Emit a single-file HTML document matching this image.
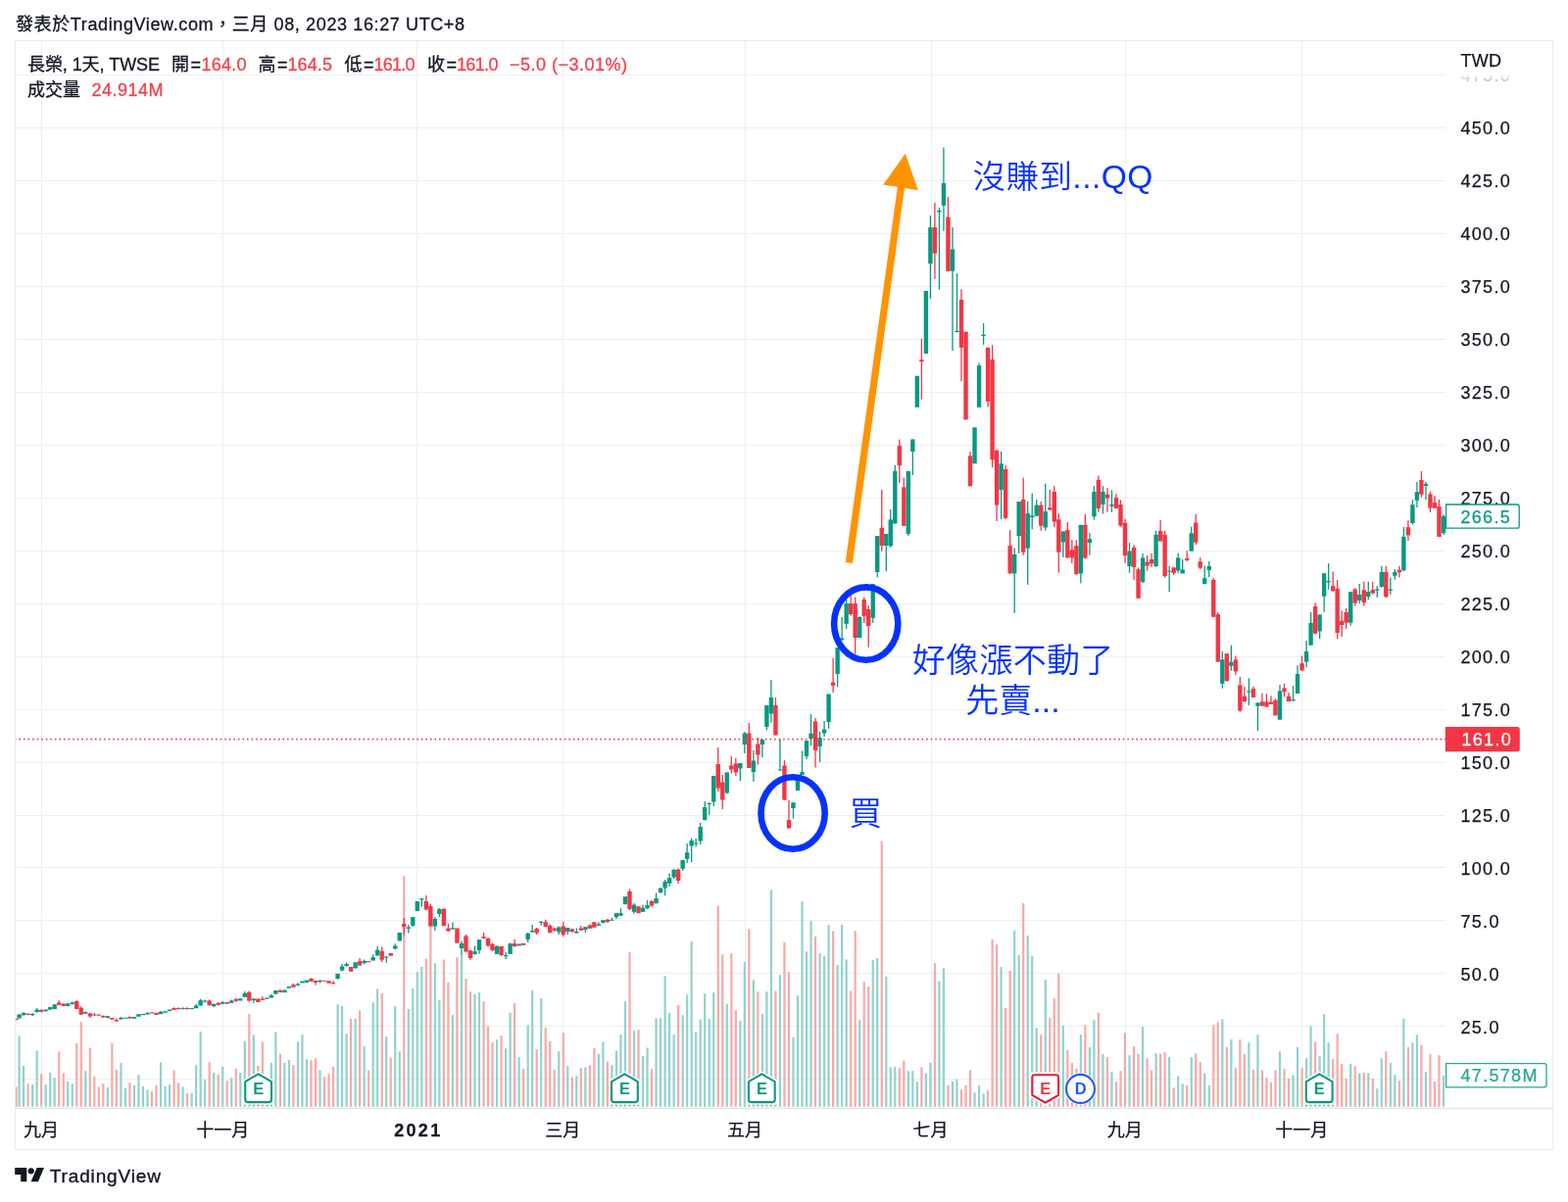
<!DOCTYPE html>
<html lang="zh-Hant"><head><meta charset="utf-8"><title>長榮 1天 TWSE - TradingView</title>
<style>
html,body{margin:0;padding:0;background:#fff;}
body{width:1600px;height:1227px;overflow:hidden;position:relative;font-family:"Liberation Sans","Noto Sans CJK TC",sans-serif;color:#131722;}
svg{position:absolute;left:0;top:0;display:block;}
text{font-family:"Liberation Sans","Noto Sans CJK TC",sans-serif;}
.ax{font-size:18px;fill:#131722;letter-spacing:1.3px;}
.ax text,text.ax{stroke:#131722;stroke-width:0.25px;}
.tm{font-size:18px;fill:#131722;}
.tm text{stroke:#131722;stroke-width:0.25px;}
.lg text{stroke:#131722;}
.lg text[fill="#f3404e"]{stroke:#f3404e;}
.ann{font-size:33.5px;fill:#0433ff;font-weight:350;}
</style></head><body>
<svg width="1600" height="1227" viewBox="0 0 1600 1227">
<rect x="0" y="0" width="1600" height="1227" fill="#fff"/>
<g stroke="#eceef1" stroke-width="1" fill="none">
<line x1="42.5" y1="41.5" x2="42.5" y2="1131.3"/>
<line x1="227.5" y1="41.5" x2="227.5" y2="1131.3"/>
<line x1="425.5" y1="41.5" x2="425.5" y2="1131.3"/>
<line x1="574.5" y1="41.5" x2="574.5" y2="1131.3"/>
<line x1="760.5" y1="41.5" x2="760.5" y2="1131.3"/>
<line x1="950.5" y1="41.5" x2="950.5" y2="1131.3"/>
<line x1="1148.5" y1="41.5" x2="1148.5" y2="1131.3"/>
<line x1="1328.5" y1="41.5" x2="1328.5" y2="1131.3"/>
<line x1="15.5" y1="1101.50" x2="1475.0" y2="1101.50"/>
<line x1="15.5" y1="1047.50" x2="1475.0" y2="1047.50"/>
<line x1="15.5" y1="993.50" x2="1475.0" y2="993.50"/>
<line x1="15.5" y1="939.50" x2="1475.0" y2="939.50"/>
<line x1="15.5" y1="885.50" x2="1475.0" y2="885.50"/>
<line x1="15.5" y1="832.50" x2="1475.0" y2="832.50"/>
<line x1="15.5" y1="778.50" x2="1475.0" y2="778.50"/>
<line x1="15.5" y1="724.50" x2="1475.0" y2="724.50"/>
<line x1="15.5" y1="670.50" x2="1475.0" y2="670.50"/>
<line x1="15.5" y1="616.50" x2="1475.0" y2="616.50"/>
<line x1="15.5" y1="562.50" x2="1475.0" y2="562.50"/>
<line x1="15.5" y1="508.50" x2="1475.0" y2="508.50"/>
<line x1="15.5" y1="454.50" x2="1475.0" y2="454.50"/>
<line x1="15.5" y1="400.50" x2="1475.0" y2="400.50"/>
<line x1="15.5" y1="346.50" x2="1475.0" y2="346.50"/>
<line x1="15.5" y1="292.50" x2="1475.0" y2="292.50"/>
<line x1="15.5" y1="238.50" x2="1475.0" y2="238.50"/>
<line x1="15.5" y1="184.50" x2="1475.0" y2="184.50"/>
<line x1="15.5" y1="130.50" x2="1475.0" y2="130.50"/>
<line x1="15.5" y1="76.50" x2="1475.0" y2="76.50"/>
</g>
<g id="vol">
<rect x="15.80" y="1109.4" width="1.85" height="20.4" fill="#f7a9a7"/>
<rect x="18.48" y="1057.5" width="2.20" height="72.3" fill="#92d2cc"/>
<rect x="23.00" y="1088.1" width="2.20" height="41.7" fill="#92d2cc"/>
<rect x="27.51" y="1106.2" width="2.20" height="23.5" fill="#f7a9a7"/>
<rect x="32.02" y="1107.1" width="2.20" height="22.7" fill="#92d2cc"/>
<rect x="36.54" y="1072.5" width="2.20" height="57.3" fill="#92d2cc"/>
<rect x="41.05" y="1096.2" width="2.20" height="33.5" fill="#f7a9a7"/>
<rect x="45.56" y="1107.1" width="2.20" height="22.7" fill="#92d2cc"/>
<rect x="50.08" y="1095.0" width="2.20" height="34.8" fill="#92d2cc"/>
<rect x="54.59" y="1100.2" width="2.20" height="29.5" fill="#92d2cc"/>
<rect x="59.10" y="1073.4" width="2.20" height="56.4" fill="#f7a9a7"/>
<rect x="63.62" y="1095.4" width="2.20" height="34.4" fill="#f7a9a7"/>
<rect x="68.13" y="1104.0" width="2.20" height="25.8" fill="#92d2cc"/>
<rect x="72.65" y="1106.2" width="2.20" height="23.5" fill="#92d2cc"/>
<rect x="77.16" y="1065.0" width="2.20" height="64.8" fill="#f7a9a7"/>
<rect x="81.67" y="1043.1" width="2.20" height="86.7" fill="#f7a9a7"/>
<rect x="86.19" y="1093.1" width="2.20" height="36.7" fill="#92d2cc"/>
<rect x="90.70" y="1069.6" width="2.20" height="60.2" fill="#f7a9a7"/>
<rect x="95.21" y="1098.8" width="2.20" height="31.0" fill="#f7a9a7"/>
<rect x="99.73" y="1109.4" width="2.20" height="20.4" fill="#f7a9a7"/>
<rect x="104.24" y="1106.2" width="2.20" height="23.5" fill="#f7a9a7"/>
<rect x="108.76" y="1110.0" width="2.20" height="19.8" fill="#92d2cc"/>
<rect x="113.27" y="1065.0" width="2.20" height="64.8" fill="#f7a9a7"/>
<rect x="117.78" y="1091.9" width="2.20" height="37.9" fill="#f7a9a7"/>
<rect x="122.30" y="1085.0" width="2.20" height="44.8" fill="#92d2cc"/>
<rect x="126.81" y="1111.0" width="2.20" height="18.8" fill="#92d2cc"/>
<rect x="131.32" y="1105.4" width="2.20" height="24.4" fill="#f7a9a7"/>
<rect x="135.84" y="1107.9" width="2.20" height="21.9" fill="#92d2cc"/>
<rect x="140.35" y="1097.1" width="2.20" height="32.7" fill="#92d2cc"/>
<rect x="144.87" y="1108.8" width="2.20" height="21.0" fill="#92d2cc"/>
<rect x="149.38" y="1112.5" width="2.20" height="17.3" fill="#92d2cc"/>
<rect x="153.89" y="1114.1" width="2.20" height="15.7" fill="#f7a9a7"/>
<rect x="158.41" y="1107.9" width="2.20" height="21.9" fill="#f7a9a7"/>
<rect x="162.92" y="1084.4" width="2.20" height="45.4" fill="#92d2cc"/>
<rect x="167.43" y="1108.8" width="2.20" height="21.0" fill="#92d2cc"/>
<rect x="171.95" y="1107.1" width="2.20" height="22.7" fill="#92d2cc"/>
<rect x="176.46" y="1092.5" width="2.20" height="37.3" fill="#f7a9a7"/>
<rect x="180.97" y="1105.4" width="2.20" height="24.4" fill="#f7a9a7"/>
<rect x="185.49" y="1109.4" width="2.20" height="20.4" fill="#92d2cc"/>
<rect x="190.00" y="1116.2" width="2.20" height="13.5" fill="#f7a9a7"/>
<rect x="194.52" y="1115.6" width="2.20" height="14.2" fill="#92d2cc"/>
<rect x="199.03" y="1087.2" width="2.20" height="42.5" fill="#92d2cc"/>
<rect x="203.54" y="1053.1" width="2.20" height="76.7" fill="#92d2cc"/>
<rect x="208.06" y="1102.2" width="2.20" height="27.5" fill="#92d2cc"/>
<rect x="212.57" y="1084.2" width="2.20" height="45.6" fill="#f7a9a7"/>
<rect x="217.08" y="1095.0" width="2.20" height="34.8" fill="#92d2cc"/>
<rect x="221.60" y="1097.0" width="2.20" height="32.8" fill="#f7a9a7"/>
<rect x="226.11" y="1089.0" width="2.20" height="40.8" fill="#92d2cc"/>
<rect x="230.63" y="1103.2" width="2.20" height="26.6" fill="#f7a9a7"/>
<rect x="235.14" y="1100.3" width="2.20" height="29.5" fill="#92d2cc"/>
<rect x="239.65" y="1091.0" width="2.20" height="38.8" fill="#f7a9a7"/>
<rect x="244.17" y="1095.0" width="2.20" height="34.8" fill="#92d2cc"/>
<rect x="248.68" y="1062.7" width="2.20" height="67.1" fill="#92d2cc"/>
<rect x="253.19" y="1035.2" width="2.20" height="94.6" fill="#f7a9a7"/>
<rect x="257.71" y="1056.5" width="2.20" height="73.3" fill="#92d2cc"/>
<rect x="262.22" y="1088.0" width="2.20" height="41.8" fill="#f7a9a7"/>
<rect x="266.73" y="1063.5" width="2.20" height="66.3" fill="#f7a9a7"/>
<rect x="271.25" y="1100.0" width="2.20" height="29.8" fill="#92d2cc"/>
<rect x="275.76" y="1085.0" width="2.20" height="44.8" fill="#92d2cc"/>
<rect x="280.28" y="1053.5" width="2.20" height="76.3" fill="#92d2cc"/>
<rect x="284.79" y="1075.8" width="2.20" height="54.0" fill="#f7a9a7"/>
<rect x="289.30" y="1085.0" width="2.20" height="44.8" fill="#92d2cc"/>
<rect x="293.82" y="1082.0" width="2.20" height="47.8" fill="#92d2cc"/>
<rect x="298.33" y="1087.0" width="2.20" height="42.8" fill="#f7a9a7"/>
<rect x="302.84" y="1063.5" width="2.20" height="66.3" fill="#92d2cc"/>
<rect x="307.36" y="1056.0" width="2.20" height="73.8" fill="#92d2cc"/>
<rect x="311.87" y="1081.2" width="2.20" height="48.6" fill="#92d2cc"/>
<rect x="316.39" y="1082.0" width="2.20" height="47.8" fill="#f7a9a7"/>
<rect x="320.90" y="1080.3" width="2.20" height="49.5" fill="#f7a9a7"/>
<rect x="325.41" y="1092.5" width="2.20" height="37.3" fill="#92d2cc"/>
<rect x="329.93" y="1099.3" width="2.20" height="30.5" fill="#f7a9a7"/>
<rect x="334.44" y="1096.2" width="2.20" height="33.6" fill="#f7a9a7"/>
<rect x="338.95" y="1089.0" width="2.20" height="40.8" fill="#f7a9a7"/>
<rect x="343.47" y="1025.2" width="2.20" height="104.6" fill="#92d2cc"/>
<rect x="347.98" y="1027.0" width="2.20" height="102.8" fill="#92d2cc"/>
<rect x="352.50" y="1055.2" width="2.20" height="74.6" fill="#92d2cc"/>
<rect x="357.01" y="1039.8" width="2.20" height="90.0" fill="#f7a9a7"/>
<rect x="361.52" y="1040.0" width="2.20" height="89.8" fill="#92d2cc"/>
<rect x="366.04" y="1031.3" width="2.20" height="98.5" fill="#f7a9a7"/>
<rect x="370.55" y="1068.0" width="2.20" height="61.8" fill="#92d2cc"/>
<rect x="375.06" y="1092.5" width="2.20" height="37.3" fill="#f7a9a7"/>
<rect x="379.58" y="1023.0" width="2.20" height="106.8" fill="#92d2cc"/>
<rect x="384.09" y="1009.5" width="2.20" height="120.3" fill="#92d2cc"/>
<rect x="388.60" y="1014.0" width="2.20" height="115.8" fill="#f7a9a7"/>
<rect x="393.12" y="1058.2" width="2.20" height="71.6" fill="#92d2cc"/>
<rect x="397.63" y="1079.5" width="2.20" height="50.3" fill="#f7a9a7"/>
<rect x="402.15" y="1027.0" width="2.20" height="102.8" fill="#92d2cc"/>
<rect x="406.66" y="1073.2" width="2.20" height="56.6" fill="#92d2cc"/>
<rect x="411.17" y="894.5" width="2.20" height="235.3" fill="#f7a9a7"/>
<rect x="415.69" y="1030.0" width="2.20" height="99.8" fill="#92d2cc"/>
<rect x="420.20" y="1009.0" width="2.20" height="120.8" fill="#92d2cc"/>
<rect x="424.71" y="992.2" width="2.20" height="137.6" fill="#92d2cc"/>
<rect x="429.23" y="987.0" width="2.20" height="142.8" fill="#92d2cc"/>
<rect x="433.74" y="978.8" width="2.20" height="151.0" fill="#f7a9a7"/>
<rect x="438.26" y="940.0" width="2.20" height="189.8" fill="#f7a9a7"/>
<rect x="442.77" y="983.2" width="2.20" height="146.6" fill="#92d2cc"/>
<rect x="447.28" y="1020.8" width="2.20" height="109.0" fill="#92d2cc"/>
<rect x="451.80" y="979.5" width="2.20" height="150.3" fill="#f7a9a7"/>
<rect x="456.31" y="1003.0" width="2.20" height="126.8" fill="#f7a9a7"/>
<rect x="460.82" y="1036.2" width="2.20" height="93.6" fill="#92d2cc"/>
<rect x="465.34" y="977.2" width="2.20" height="152.6" fill="#f7a9a7"/>
<rect x="469.85" y="974.0" width="2.20" height="155.8" fill="#92d2cc"/>
<rect x="474.37" y="999.2" width="2.20" height="130.6" fill="#f7a9a7"/>
<rect x="478.88" y="1012.2" width="2.20" height="117.6" fill="#f7a9a7"/>
<rect x="483.39" y="1014.8" width="2.20" height="115.0" fill="#92d2cc"/>
<rect x="487.91" y="1013.2" width="2.20" height="116.6" fill="#92d2cc"/>
<rect x="492.42" y="1022.2" width="2.20" height="107.6" fill="#f7a9a7"/>
<rect x="496.93" y="1047.5" width="2.20" height="82.3" fill="#f7a9a7"/>
<rect x="501.45" y="1064.2" width="2.20" height="65.6" fill="#f7a9a7"/>
<rect x="505.96" y="1061.2" width="2.20" height="68.6" fill="#92d2cc"/>
<rect x="510.47" y="1057.3" width="2.20" height="72.5" fill="#f7a9a7"/>
<rect x="514.99" y="1070.3" width="2.20" height="59.5" fill="#92d2cc"/>
<rect x="519.50" y="1033.8" width="2.20" height="96.0" fill="#92d2cc"/>
<rect x="524.02" y="1024.0" width="2.20" height="105.8" fill="#f7a9a7"/>
<rect x="528.53" y="1079.0" width="2.20" height="50.8" fill="#92d2cc"/>
<rect x="533.04" y="1091.2" width="2.20" height="38.6" fill="#f7a9a7"/>
<rect x="537.56" y="1046.2" width="2.20" height="83.6" fill="#92d2cc"/>
<rect x="542.07" y="1011.0" width="2.20" height="118.8" fill="#92d2cc"/>
<rect x="546.58" y="1071.2" width="2.20" height="58.6" fill="#f7a9a7"/>
<rect x="551.10" y="1019.2" width="2.20" height="110.6" fill="#92d2cc"/>
<rect x="555.61" y="1049.2" width="2.20" height="80.6" fill="#f7a9a7"/>
<rect x="560.13" y="1062.8" width="2.20" height="67.0" fill="#f7a9a7"/>
<rect x="564.64" y="1092.0" width="2.20" height="37.8" fill="#f7a9a7"/>
<rect x="569.15" y="1073.3" width="2.20" height="56.5" fill="#92d2cc"/>
<rect x="573.67" y="1054.3" width="2.20" height="75.5" fill="#f7a9a7"/>
<rect x="578.18" y="1088.2" width="2.20" height="41.6" fill="#92d2cc"/>
<rect x="582.69" y="1099.3" width="2.20" height="30.5" fill="#f7a9a7"/>
<rect x="587.21" y="1098.0" width="2.20" height="31.8" fill="#92d2cc"/>
<rect x="591.72" y="1090.2" width="2.20" height="39.6" fill="#f7a9a7"/>
<rect x="596.24" y="1089.5" width="2.20" height="40.3" fill="#92d2cc"/>
<rect x="600.75" y="1087.2" width="2.20" height="42.6" fill="#f7a9a7"/>
<rect x="605.26" y="1069.7" width="2.20" height="60.1" fill="#f7a9a7"/>
<rect x="609.78" y="1075.8" width="2.20" height="54.0" fill="#92d2cc"/>
<rect x="614.29" y="1063.5" width="2.20" height="66.3" fill="#92d2cc"/>
<rect x="618.80" y="1083.5" width="2.20" height="46.3" fill="#f7a9a7"/>
<rect x="623.32" y="1087.2" width="2.20" height="42.6" fill="#92d2cc"/>
<rect x="627.83" y="1072.7" width="2.20" height="57.1" fill="#92d2cc"/>
<rect x="632.34" y="1056.0" width="2.20" height="73.8" fill="#92d2cc"/>
<rect x="636.86" y="1022.2" width="2.20" height="107.6" fill="#92d2cc"/>
<rect x="641.37" y="972.0" width="2.20" height="157.8" fill="#f7a9a7"/>
<rect x="645.89" y="1052.2" width="2.20" height="77.6" fill="#92d2cc"/>
<rect x="650.40" y="1051.2" width="2.20" height="78.6" fill="#f7a9a7"/>
<rect x="654.91" y="1078.2" width="2.20" height="51.6" fill="#92d2cc"/>
<rect x="659.43" y="1069.5" width="2.20" height="60.3" fill="#92d2cc"/>
<rect x="663.94" y="1091.2" width="2.20" height="38.6" fill="#f7a9a7"/>
<rect x="668.45" y="1039.2" width="2.20" height="90.6" fill="#92d2cc"/>
<rect x="672.97" y="1039.2" width="2.20" height="90.6" fill="#92d2cc"/>
<rect x="677.48" y="996.2" width="2.20" height="133.6" fill="#92d2cc"/>
<rect x="682.00" y="1033.8" width="2.20" height="96.0" fill="#92d2cc"/>
<rect x="686.51" y="1056.2" width="2.20" height="73.6" fill="#92d2cc"/>
<rect x="691.02" y="1026.0" width="2.20" height="103.8" fill="#f7a9a7"/>
<rect x="695.54" y="1036.2" width="2.20" height="93.6" fill="#92d2cc"/>
<rect x="700.05" y="1015.2" width="2.20" height="114.6" fill="#92d2cc"/>
<rect x="704.56" y="961.2" width="2.20" height="168.6" fill="#92d2cc"/>
<rect x="709.08" y="1053.8" width="2.20" height="76.0" fill="#92d2cc"/>
<rect x="713.59" y="1040.5" width="2.20" height="89.3" fill="#92d2cc"/>
<rect x="718.11" y="1014.2" width="2.20" height="115.6" fill="#92d2cc"/>
<rect x="722.62" y="1040.0" width="2.20" height="89.8" fill="#92d2cc"/>
<rect x="727.13" y="1013.2" width="2.20" height="116.6" fill="#92d2cc"/>
<rect x="731.65" y="924.5" width="2.20" height="205.3" fill="#f7a9a7"/>
<rect x="736.16" y="974.2" width="2.20" height="155.6" fill="#f7a9a7"/>
<rect x="740.67" y="1024.8" width="2.20" height="105.0" fill="#92d2cc"/>
<rect x="745.19" y="973.2" width="2.20" height="156.6" fill="#f7a9a7"/>
<rect x="749.70" y="1031.3" width="2.20" height="98.5" fill="#f7a9a7"/>
<rect x="754.21" y="1042.2" width="2.20" height="87.6" fill="#92d2cc"/>
<rect x="758.73" y="981.8" width="2.20" height="148.0" fill="#92d2cc"/>
<rect x="763.24" y="948.2" width="2.20" height="181.6" fill="#f7a9a7"/>
<rect x="767.76" y="1000.2" width="2.20" height="129.6" fill="#92d2cc"/>
<rect x="772.27" y="1012.2" width="2.20" height="117.6" fill="#f7a9a7"/>
<rect x="776.78" y="1035.2" width="2.20" height="94.6" fill="#92d2cc"/>
<rect x="781.30" y="1012.2" width="2.20" height="117.6" fill="#92d2cc"/>
<rect x="785.81" y="908.5" width="2.20" height="221.3" fill="#92d2cc"/>
<rect x="790.32" y="1011.5" width="2.20" height="118.3" fill="#f7a9a7"/>
<rect x="794.84" y="995.2" width="2.20" height="134.6" fill="#92d2cc"/>
<rect x="799.35" y="961.8" width="2.20" height="168.0" fill="#f7a9a7"/>
<rect x="803.87" y="992.4" width="2.20" height="137.4" fill="#f7a9a7"/>
<rect x="808.38" y="1059.0" width="2.20" height="70.8" fill="#92d2cc"/>
<rect x="812.89" y="1016.2" width="2.20" height="113.6" fill="#92d2cc"/>
<rect x="817.41" y="920.2" width="2.20" height="209.6" fill="#92d2cc"/>
<rect x="821.92" y="971.3" width="2.20" height="158.5" fill="#92d2cc"/>
<rect x="826.43" y="940.0" width="2.20" height="189.8" fill="#92d2cc"/>
<rect x="830.95" y="955.9" width="2.20" height="173.9" fill="#f7a9a7"/>
<rect x="835.46" y="973.2" width="2.20" height="156.6" fill="#92d2cc"/>
<rect x="839.97" y="975.8" width="2.20" height="154.0" fill="#92d2cc"/>
<rect x="844.49" y="944.1" width="2.20" height="185.7" fill="#92d2cc"/>
<rect x="849.00" y="950.4" width="2.20" height="179.4" fill="#f7a9a7"/>
<rect x="853.52" y="985.0" width="2.20" height="144.8" fill="#92d2cc"/>
<rect x="858.03" y="944.1" width="2.20" height="185.7" fill="#92d2cc"/>
<rect x="862.54" y="979.4" width="2.20" height="150.4" fill="#92d2cc"/>
<rect x="867.06" y="1011.5" width="2.20" height="118.3" fill="#f7a9a7"/>
<rect x="871.57" y="950.4" width="2.20" height="179.4" fill="#f7a9a7"/>
<rect x="876.08" y="1041.2" width="2.20" height="88.6" fill="#92d2cc"/>
<rect x="880.60" y="1002.3" width="2.20" height="127.5" fill="#f7a9a7"/>
<rect x="885.11" y="1007.1" width="2.20" height="122.7" fill="#f7a9a7"/>
<rect x="889.63" y="980.1" width="2.20" height="149.7" fill="#92d2cc"/>
<rect x="894.14" y="978.0" width="2.20" height="151.8" fill="#92d2cc"/>
<rect x="898.65" y="858.5" width="2.20" height="271.3" fill="#f7a9a7"/>
<rect x="903.17" y="997.1" width="2.20" height="132.7" fill="#92d2cc"/>
<rect x="907.68" y="1089.5" width="2.20" height="40.3" fill="#92d2cc"/>
<rect x="912.19" y="1089.0" width="2.20" height="40.8" fill="#92d2cc"/>
<rect x="916.71" y="1090.2" width="2.20" height="39.6" fill="#f7a9a7"/>
<rect x="921.22" y="1082.7" width="2.20" height="47.1" fill="#f7a9a7"/>
<rect x="925.74" y="1093.2" width="2.20" height="36.6" fill="#92d2cc"/>
<rect x="930.25" y="1093.2" width="2.20" height="36.6" fill="#92d2cc"/>
<rect x="934.76" y="1104.2" width="2.20" height="25.6" fill="#92d2cc"/>
<rect x="939.28" y="1089.5" width="2.20" height="40.3" fill="#f7a9a7"/>
<rect x="943.79" y="1095.5" width="2.20" height="34.3" fill="#92d2cc"/>
<rect x="948.30" y="1085.0" width="2.20" height="44.8" fill="#92d2cc"/>
<rect x="952.82" y="983.2" width="2.20" height="146.6" fill="#f7a9a7"/>
<rect x="957.33" y="1001.5" width="2.20" height="128.3" fill="#92d2cc"/>
<rect x="961.84" y="988.5" width="2.20" height="141.3" fill="#92d2cc"/>
<rect x="966.36" y="1107.8" width="2.20" height="22.0" fill="#f7a9a7"/>
<rect x="970.87" y="1104.0" width="2.20" height="25.8" fill="#92d2cc"/>
<rect x="975.39" y="1101.8" width="2.20" height="28.0" fill="#92d2cc"/>
<rect x="979.90" y="1112.2" width="2.20" height="17.6" fill="#f7a9a7"/>
<rect x="984.41" y="1107.8" width="2.20" height="22.0" fill="#f7a9a7"/>
<rect x="988.93" y="1092.5" width="2.20" height="37.3" fill="#f7a9a7"/>
<rect x="993.44" y="1115.2" width="2.20" height="14.6" fill="#92d2cc"/>
<rect x="997.95" y="1108.0" width="2.20" height="21.8" fill="#92d2cc"/>
<rect x="1002.47" y="1116.2" width="2.20" height="13.6" fill="#92d2cc"/>
<rect x="1006.98" y="1113.2" width="2.20" height="16.6" fill="#f7a9a7"/>
<rect x="1011.50" y="958.8" width="2.20" height="171.0" fill="#f7a9a7"/>
<rect x="1016.01" y="964.2" width="2.20" height="165.6" fill="#f7a9a7"/>
<rect x="1020.52" y="987.0" width="2.20" height="142.8" fill="#92d2cc"/>
<rect x="1025.04" y="1029.0" width="2.20" height="100.8" fill="#f7a9a7"/>
<rect x="1029.55" y="991.0" width="2.20" height="138.8" fill="#f7a9a7"/>
<rect x="1034.06" y="949.7" width="2.20" height="180.1" fill="#92d2cc"/>
<rect x="1038.58" y="975.0" width="2.20" height="154.8" fill="#92d2cc"/>
<rect x="1043.09" y="922.0" width="2.20" height="207.8" fill="#f7a9a7"/>
<rect x="1047.61" y="955.0" width="2.20" height="174.8" fill="#92d2cc"/>
<rect x="1052.12" y="976.2" width="2.20" height="153.6" fill="#92d2cc"/>
<rect x="1056.63" y="1049.2" width="2.20" height="80.6" fill="#92d2cc"/>
<rect x="1061.15" y="1056.0" width="2.20" height="73.8" fill="#f7a9a7"/>
<rect x="1065.66" y="1000.0" width="2.20" height="129.8" fill="#92d2cc"/>
<rect x="1070.17" y="1039.2" width="2.20" height="90.6" fill="#f7a9a7"/>
<rect x="1074.69" y="1019.2" width="2.20" height="110.6" fill="#f7a9a7"/>
<rect x="1079.20" y="994.0" width="2.20" height="135.8" fill="#f7a9a7"/>
<rect x="1083.71" y="1047.0" width="2.20" height="82.8" fill="#92d2cc"/>
<rect x="1088.23" y="1072.0" width="2.20" height="57.8" fill="#f7a9a7"/>
<rect x="1092.74" y="1085.0" width="2.20" height="44.8" fill="#f7a9a7"/>
<rect x="1097.26" y="1091.0" width="2.20" height="38.8" fill="#f7a9a7"/>
<rect x="1101.77" y="1056.0" width="2.20" height="73.8" fill="#92d2cc"/>
<rect x="1106.28" y="1046.2" width="2.20" height="83.6" fill="#f7a9a7"/>
<rect x="1110.80" y="1069.0" width="2.20" height="60.8" fill="#92d2cc"/>
<rect x="1115.31" y="1041.2" width="2.20" height="88.6" fill="#92d2cc"/>
<rect x="1119.82" y="1033.8" width="2.20" height="96.0" fill="#f7a9a7"/>
<rect x="1124.34" y="1075.8" width="2.20" height="54.0" fill="#92d2cc"/>
<rect x="1128.85" y="1079.0" width="2.20" height="50.8" fill="#f7a9a7"/>
<rect x="1133.37" y="1094.2" width="2.20" height="35.6" fill="#92d2cc"/>
<rect x="1137.88" y="1104.2" width="2.20" height="25.6" fill="#f7a9a7"/>
<rect x="1142.39" y="1093.2" width="2.20" height="36.6" fill="#f7a9a7"/>
<rect x="1146.91" y="1054.3" width="2.20" height="75.5" fill="#f7a9a7"/>
<rect x="1151.42" y="1077.2" width="2.20" height="52.6" fill="#92d2cc"/>
<rect x="1155.93" y="1068.2" width="2.20" height="61.6" fill="#f7a9a7"/>
<rect x="1160.45" y="1075.8" width="2.20" height="54.0" fill="#f7a9a7"/>
<rect x="1164.96" y="1048.2" width="2.20" height="81.6" fill="#92d2cc"/>
<rect x="1169.48" y="1080.3" width="2.20" height="49.5" fill="#f7a9a7"/>
<rect x="1173.99" y="1092.5" width="2.20" height="37.3" fill="#f7a9a7"/>
<rect x="1178.50" y="1075.2" width="2.20" height="54.6" fill="#92d2cc"/>
<rect x="1183.02" y="1075.8" width="2.20" height="54.0" fill="#f7a9a7"/>
<rect x="1187.53" y="1074.2" width="2.20" height="55.6" fill="#f7a9a7"/>
<rect x="1192.04" y="1079.0" width="2.20" height="50.8" fill="#92d2cc"/>
<rect x="1196.56" y="1110.2" width="2.20" height="19.6" fill="#f7a9a7"/>
<rect x="1201.07" y="1098.5" width="2.20" height="31.3" fill="#92d2cc"/>
<rect x="1205.58" y="1106.2" width="2.20" height="23.6" fill="#92d2cc"/>
<rect x="1210.10" y="1107.8" width="2.20" height="22.0" fill="#f7a9a7"/>
<rect x="1214.61" y="1079.0" width="2.20" height="50.8" fill="#92d2cc"/>
<rect x="1219.13" y="1075.2" width="2.20" height="54.6" fill="#f7a9a7"/>
<rect x="1223.64" y="1084.2" width="2.20" height="45.6" fill="#f7a9a7"/>
<rect x="1228.15" y="1095.5" width="2.20" height="34.3" fill="#92d2cc"/>
<rect x="1232.67" y="1108.0" width="2.20" height="21.8" fill="#92d2cc"/>
<rect x="1237.18" y="1046.2" width="2.20" height="83.6" fill="#f7a9a7"/>
<rect x="1241.69" y="1043.2" width="2.20" height="86.6" fill="#f7a9a7"/>
<rect x="1246.21" y="1040.5" width="2.20" height="89.3" fill="#92d2cc"/>
<rect x="1250.72" y="1069.0" width="2.20" height="60.8" fill="#f7a9a7"/>
<rect x="1255.24" y="1061.2" width="2.20" height="68.6" fill="#92d2cc"/>
<rect x="1259.75" y="1090.2" width="2.20" height="39.6" fill="#f7a9a7"/>
<rect x="1264.26" y="1061.2" width="2.20" height="68.6" fill="#f7a9a7"/>
<rect x="1268.78" y="1076.2" width="2.20" height="53.6" fill="#f7a9a7"/>
<rect x="1273.29" y="1064.2" width="2.20" height="65.6" fill="#92d2cc"/>
<rect x="1277.80" y="1092.0" width="2.20" height="37.8" fill="#f7a9a7"/>
<rect x="1282.32" y="1056.0" width="2.20" height="73.8" fill="#92d2cc"/>
<rect x="1286.83" y="1092.5" width="2.20" height="37.3" fill="#f7a9a7"/>
<rect x="1291.34" y="1100.2" width="2.20" height="29.6" fill="#f7a9a7"/>
<rect x="1295.86" y="1104.8" width="2.20" height="25.0" fill="#f7a9a7"/>
<rect x="1300.37" y="1092.5" width="2.20" height="37.3" fill="#f7a9a7"/>
<rect x="1304.89" y="1073.3" width="2.20" height="56.5" fill="#92d2cc"/>
<rect x="1309.40" y="1091.2" width="2.20" height="38.6" fill="#f7a9a7"/>
<rect x="1313.91" y="1101.0" width="2.20" height="28.8" fill="#f7a9a7"/>
<rect x="1318.43" y="1097.2" width="2.20" height="32.6" fill="#92d2cc"/>
<rect x="1322.94" y="1069.0" width="2.20" height="60.8" fill="#92d2cc"/>
<rect x="1327.45" y="1090.2" width="2.20" height="39.6" fill="#f7a9a7"/>
<rect x="1331.97" y="1080.3" width="2.20" height="49.5" fill="#92d2cc"/>
<rect x="1336.48" y="1047.5" width="2.20" height="82.3" fill="#92d2cc"/>
<rect x="1341.00" y="1063.5" width="2.20" height="66.3" fill="#f7a9a7"/>
<rect x="1345.51" y="1078.2" width="2.20" height="51.6" fill="#92d2cc"/>
<rect x="1350.02" y="1035.2" width="2.20" height="94.6" fill="#92d2cc"/>
<rect x="1354.54" y="1064.2" width="2.20" height="65.6" fill="#92d2cc"/>
<rect x="1359.05" y="1081.2" width="2.20" height="48.6" fill="#f7a9a7"/>
<rect x="1363.56" y="1055.2" width="2.20" height="74.6" fill="#f7a9a7"/>
<rect x="1368.08" y="1085.8" width="2.20" height="44.0" fill="#f7a9a7"/>
<rect x="1372.59" y="1101.0" width="2.20" height="28.8" fill="#f7a9a7"/>
<rect x="1377.11" y="1085.8" width="2.20" height="44.0" fill="#92d2cc"/>
<rect x="1381.62" y="1088.2" width="2.20" height="41.6" fill="#f7a9a7"/>
<rect x="1386.13" y="1095.5" width="2.20" height="34.3" fill="#92d2cc"/>
<rect x="1390.65" y="1095.0" width="2.20" height="34.8" fill="#f7a9a7"/>
<rect x="1395.16" y="1095.5" width="2.20" height="34.3" fill="#92d2cc"/>
<rect x="1399.67" y="1101.0" width="2.20" height="28.8" fill="#f7a9a7"/>
<rect x="1404.19" y="1111.2" width="2.20" height="18.6" fill="#92d2cc"/>
<rect x="1408.70" y="1080.3" width="2.20" height="49.5" fill="#92d2cc"/>
<rect x="1413.21" y="1073.3" width="2.20" height="56.5" fill="#f7a9a7"/>
<rect x="1417.73" y="1085.0" width="2.20" height="44.8" fill="#92d2cc"/>
<rect x="1422.24" y="1097.2" width="2.20" height="32.6" fill="#92d2cc"/>
<rect x="1426.76" y="1103.2" width="2.20" height="26.6" fill="#f7a9a7"/>
<rect x="1431.27" y="1039.8" width="2.20" height="90.0" fill="#92d2cc"/>
<rect x="1435.78" y="1069.0" width="2.20" height="60.8" fill="#f7a9a7"/>
<rect x="1440.30" y="1064.2" width="2.20" height="65.6" fill="#92d2cc"/>
<rect x="1444.81" y="1056.5" width="2.20" height="73.3" fill="#92d2cc"/>
<rect x="1449.32" y="1066.5" width="2.20" height="63.3" fill="#f7a9a7"/>
<rect x="1453.84" y="1094.0" width="2.20" height="35.8" fill="#92d2cc"/>
<rect x="1458.35" y="1076.2" width="2.20" height="53.6" fill="#f7a9a7"/>
<rect x="1462.87" y="1104.0" width="2.20" height="25.8" fill="#f7a9a7"/>
<rect x="1467.38" y="1077.2" width="2.20" height="52.6" fill="#f7a9a7"/>
<rect x="1471.89" y="1098.0" width="2.20" height="31.8" fill="#92d2cc"/>
</g>
<g id="candles">
<rect x="15.90" y="1039.7" width="1.3" height="1.6" fill="#f23645"/>
<rect x="15.80" y="1040.0" width="2.95" height="1.0" fill="#f23645"/>
<rect x="18.93" y="1035.0" width="1.3" height="4.7" fill="#089981"/>
<rect x="17.38" y="1035.6" width="4.40" height="3.8" fill="#089981"/>
<rect x="23.45" y="1033.1" width="1.3" height="3.4" fill="#089981"/>
<rect x="21.90" y="1034.1" width="4.40" height="2.2" fill="#089981"/>
<rect x="27.96" y="1034.4" width="1.3" height="1.9" fill="#f23645"/>
<rect x="26.41" y="1034.7" width="4.40" height="1.2" fill="#f23645"/>
<rect x="32.47" y="1034.1" width="1.3" height="3.1" fill="#089981"/>
<rect x="30.92" y="1035.0" width="4.40" height="1.2" fill="#089981"/>
<rect x="36.99" y="1029.1" width="1.3" height="4.4" fill="#089981"/>
<rect x="35.44" y="1030.6" width="4.40" height="2.5" fill="#089981"/>
<rect x="41.50" y="1030.3" width="1.3" height="3.1" fill="#f23645"/>
<rect x="39.95" y="1030.9" width="4.40" height="1.9" fill="#f23645"/>
<rect x="46.01" y="1030.3" width="1.3" height="2.2" fill="#089981"/>
<rect x="44.46" y="1030.6" width="4.40" height="1.6" fill="#089981"/>
<rect x="50.53" y="1027.8" width="1.3" height="3.1" fill="#089981"/>
<rect x="48.98" y="1028.1" width="4.40" height="2.5" fill="#089981"/>
<rect x="55.04" y="1025.0" width="1.3" height="5.3" fill="#089981"/>
<rect x="53.49" y="1025.3" width="4.40" height="4.7" fill="#089981"/>
<rect x="59.55" y="1021.2" width="1.3" height="5.0" fill="#f23645"/>
<rect x="58.00" y="1023.4" width="4.40" height="2.5" fill="#f23645"/>
<rect x="64.07" y="1024.1" width="1.3" height="3.1" fill="#f23645"/>
<rect x="62.52" y="1024.7" width="4.40" height="2.2" fill="#f23645"/>
<rect x="68.58" y="1024.1" width="1.3" height="3.1" fill="#089981"/>
<rect x="67.03" y="1024.4" width="4.40" height="2.5" fill="#089981"/>
<rect x="73.10" y="1022.5" width="1.3" height="3.1" fill="#089981"/>
<rect x="71.55" y="1023.4" width="4.40" height="1.6" fill="#089981"/>
<rect x="77.61" y="1021.2" width="1.3" height="9.1" fill="#f23645"/>
<rect x="76.06" y="1021.9" width="4.40" height="8.1" fill="#f23645"/>
<rect x="82.12" y="1027.2" width="1.3" height="8.8" fill="#f23645"/>
<rect x="80.57" y="1028.8" width="4.40" height="6.9" fill="#f23645"/>
<rect x="86.64" y="1032.5" width="1.3" height="2.5" fill="#089981"/>
<rect x="85.09" y="1033.1" width="4.40" height="1.6" fill="#089981"/>
<rect x="91.15" y="1034.1" width="1.3" height="4.7" fill="#f23645"/>
<rect x="89.60" y="1034.4" width="4.40" height="3.1" fill="#f23645"/>
<rect x="95.66" y="1034.1" width="1.3" height="2.8" fill="#f23645"/>
<rect x="94.11" y="1035.6" width="4.40" height="1.0" fill="#f23645"/>
<rect x="100.18" y="1035.3" width="1.3" height="1.6" fill="#f23645"/>
<rect x="98.63" y="1035.6" width="4.40" height="1.0" fill="#f23645"/>
<rect x="104.69" y="1036.6" width="1.3" height="2.2" fill="#f23645"/>
<rect x="103.14" y="1036.9" width="4.40" height="1.6" fill="#f23645"/>
<rect x="109.21" y="1036.9" width="1.3" height="2.5" fill="#089981"/>
<rect x="107.66" y="1037.2" width="4.40" height="1.9" fill="#089981"/>
<rect x="112.17" y="1039.0" width="4.40" height="1.8" fill="#f23645"/>
<rect x="118.23" y="1039.5" width="1.3" height="3.5" fill="#f23645"/>
<rect x="116.68" y="1041.2" width="4.40" height="1.3" fill="#f23645"/>
<rect x="122.75" y="1038.0" width="1.3" height="2.5" fill="#089981"/>
<rect x="121.20" y="1039.0" width="4.40" height="1.5" fill="#089981"/>
<rect x="125.71" y="1038.8" width="4.40" height="1.0" fill="#089981"/>
<rect x="131.77" y="1037.5" width="1.3" height="2.5" fill="#f23645"/>
<rect x="130.22" y="1038.0" width="4.40" height="1.5" fill="#f23645"/>
<rect x="134.74" y="1038.0" width="4.40" height="1.8" fill="#089981"/>
<rect x="139.25" y="1035.2" width="4.40" height="2.6" fill="#089981"/>
<rect x="143.77" y="1035.0" width="4.40" height="1.2" fill="#089981"/>
<rect x="149.83" y="1033.2" width="1.3" height="2.3" fill="#089981"/>
<rect x="148.28" y="1034.0" width="4.40" height="1.5" fill="#089981"/>
<rect x="152.79" y="1033.3" width="4.40" height="1.2" fill="#f23645"/>
<rect x="157.31" y="1033.8" width="4.40" height="2.2" fill="#f23645"/>
<rect x="163.37" y="1032.0" width="1.3" height="3.2" fill="#089981"/>
<rect x="161.82" y="1032.8" width="4.40" height="2.4" fill="#089981"/>
<rect x="166.33" y="1032.2" width="4.40" height="1.6" fill="#089981"/>
<rect x="170.85" y="1030.5" width="4.40" height="1.7" fill="#089981"/>
<rect x="176.91" y="1028.3" width="1.3" height="2.5" fill="#f23645"/>
<rect x="175.36" y="1029.0" width="4.40" height="1.8" fill="#f23645"/>
<rect x="181.42" y="1028.3" width="1.3" height="1.9" fill="#f23645"/>
<rect x="179.87" y="1029.0" width="4.40" height="1.2" fill="#f23645"/>
<rect x="185.94" y="1028.3" width="1.3" height="2.2" fill="#089981"/>
<rect x="184.39" y="1029.0" width="4.40" height="1.0" fill="#089981"/>
<rect x="190.45" y="1028.3" width="1.3" height="1.9" fill="#f23645"/>
<rect x="188.90" y="1029.0" width="4.40" height="1.2" fill="#f23645"/>
<rect x="193.42" y="1029.0" width="4.40" height="1.2" fill="#089981"/>
<rect x="199.48" y="1024.8" width="1.3" height="4.4" fill="#089981"/>
<rect x="197.93" y="1026.5" width="4.40" height="2.7" fill="#089981"/>
<rect x="203.99" y="1019.7" width="1.3" height="6.8" fill="#089981"/>
<rect x="202.44" y="1021.2" width="4.40" height="5.3" fill="#089981"/>
<rect x="208.51" y="1020.5" width="1.3" height="3.0" fill="#089981"/>
<rect x="206.96" y="1021.5" width="4.40" height="1.0" fill="#089981"/>
<rect x="213.02" y="1020.3" width="1.3" height="6.2" fill="#f23645"/>
<rect x="211.47" y="1021.5" width="4.40" height="4.7" fill="#f23645"/>
<rect x="217.53" y="1024.3" width="1.3" height="3.7" fill="#089981"/>
<rect x="215.98" y="1025.0" width="4.40" height="2.2" fill="#089981"/>
<rect x="222.05" y="1023.0" width="1.3" height="3.5" fill="#f23645"/>
<rect x="220.50" y="1024.0" width="4.40" height="1.8" fill="#f23645"/>
<rect x="226.56" y="1022.0" width="1.3" height="2.8" fill="#089981"/>
<rect x="225.01" y="1023.0" width="4.40" height="1.8" fill="#089981"/>
<rect x="231.08" y="1023.0" width="1.3" height="2.0" fill="#f23645"/>
<rect x="229.53" y="1023.0" width="4.40" height="1.5" fill="#f23645"/>
<rect x="235.59" y="1020.5" width="1.3" height="3.3" fill="#089981"/>
<rect x="234.04" y="1021.5" width="4.40" height="2.3" fill="#089981"/>
<rect x="240.10" y="1019.0" width="1.3" height="3.8" fill="#f23645"/>
<rect x="238.55" y="1020.0" width="4.40" height="1.8" fill="#f23645"/>
<rect x="243.07" y="1019.2" width="4.40" height="2.3" fill="#089981"/>
<rect x="249.13" y="1012.0" width="1.3" height="6.0" fill="#089981"/>
<rect x="247.58" y="1013.8" width="4.40" height="4.0" fill="#089981"/>
<rect x="253.64" y="1011.5" width="1.3" height="11.0" fill="#f23645"/>
<rect x="252.09" y="1013.0" width="4.40" height="8.5" fill="#f23645"/>
<rect x="258.16" y="1018.8" width="1.3" height="5.2" fill="#089981"/>
<rect x="256.61" y="1019.5" width="4.40" height="1.7" fill="#089981"/>
<rect x="261.12" y="1019.5" width="4.40" height="3.5" fill="#f23645"/>
<rect x="267.19" y="1017.0" width="1.3" height="4.0" fill="#f23645"/>
<rect x="265.63" y="1019.5" width="4.40" height="1.3" fill="#f23645"/>
<rect x="270.15" y="1018.5" width="4.40" height="1.3" fill="#089981"/>
<rect x="276.21" y="1015.0" width="1.3" height="3.5" fill="#089981"/>
<rect x="274.66" y="1016.0" width="4.40" height="2.5" fill="#089981"/>
<rect x="279.18" y="1011.0" width="4.40" height="3.8" fill="#089981"/>
<rect x="285.24" y="1010.0" width="1.3" height="3.0" fill="#f23645"/>
<rect x="283.69" y="1011.2" width="4.40" height="1.8" fill="#f23645"/>
<rect x="288.20" y="1010.5" width="4.40" height="2.7" fill="#089981"/>
<rect x="292.72" y="1007.0" width="4.40" height="1.8" fill="#089981"/>
<rect x="298.78" y="1003.8" width="1.3" height="4.0" fill="#f23645"/>
<rect x="297.23" y="1005.2" width="4.40" height="2.6" fill="#f23645"/>
<rect x="303.29" y="1003.3" width="1.3" height="3.2" fill="#089981"/>
<rect x="301.74" y="1004.5" width="4.40" height="1.3" fill="#089981"/>
<rect x="306.26" y="1001.5" width="4.40" height="2.0" fill="#089981"/>
<rect x="310.77" y="1000.5" width="4.40" height="2.5" fill="#089981"/>
<rect x="316.84" y="998.3" width="1.3" height="3.5" fill="#f23645"/>
<rect x="315.29" y="999.0" width="4.40" height="2.8" fill="#f23645"/>
<rect x="321.35" y="1001.0" width="1.3" height="4.5" fill="#f23645"/>
<rect x="319.80" y="1001.0" width="4.40" height="2.0" fill="#f23645"/>
<rect x="325.86" y="1000.0" width="1.3" height="3.5" fill="#089981"/>
<rect x="324.31" y="1001.0" width="4.40" height="1.2" fill="#089981"/>
<rect x="328.83" y="1000.8" width="4.40" height="1.0" fill="#f23645"/>
<rect x="333.34" y="1001.2" width="4.40" height="2.6" fill="#f23645"/>
<rect x="339.40" y="1001.2" width="1.3" height="3.6" fill="#f23645"/>
<rect x="337.85" y="1003.0" width="4.40" height="1.0" fill="#f23645"/>
<rect x="343.92" y="994.0" width="1.3" height="5.8" fill="#089981"/>
<rect x="342.37" y="994.0" width="4.40" height="5.0" fill="#089981"/>
<rect x="348.43" y="984.0" width="1.3" height="7.5" fill="#089981"/>
<rect x="346.88" y="986.5" width="4.40" height="4.0" fill="#089981"/>
<rect x="352.95" y="982.5" width="1.3" height="4.3" fill="#089981"/>
<rect x="351.40" y="984.0" width="4.40" height="2.0" fill="#089981"/>
<rect x="355.91" y="987.0" width="4.40" height="4.8" fill="#f23645"/>
<rect x="361.97" y="982.3" width="1.3" height="6.7" fill="#089981"/>
<rect x="360.42" y="982.3" width="4.40" height="5.9" fill="#089981"/>
<rect x="366.49" y="978.2" width="1.3" height="7.3" fill="#f23645"/>
<rect x="364.94" y="981.2" width="4.40" height="4.3" fill="#f23645"/>
<rect x="371.00" y="979.5" width="1.3" height="5.0" fill="#089981"/>
<rect x="369.45" y="981.0" width="4.40" height="2.0" fill="#089981"/>
<rect x="373.96" y="981.0" width="4.40" height="1.2" fill="#f23645"/>
<rect x="380.03" y="974.2" width="1.3" height="6.3" fill="#089981"/>
<rect x="378.48" y="977.2" width="4.40" height="3.3" fill="#089981"/>
<rect x="384.54" y="965.8" width="1.3" height="9.7" fill="#089981"/>
<rect x="382.99" y="969.7" width="4.40" height="5.8" fill="#089981"/>
<rect x="389.05" y="966.5" width="1.3" height="15.5" fill="#f23645"/>
<rect x="387.50" y="971.0" width="4.40" height="8.7" fill="#f23645"/>
<rect x="393.57" y="975.8" width="1.3" height="7.0" fill="#089981"/>
<rect x="392.02" y="976.6" width="4.40" height="1.0" fill="#089981"/>
<rect x="396.53" y="973.0" width="4.40" height="2.8" fill="#f23645"/>
<rect x="402.60" y="963.2" width="1.3" height="5.8" fill="#089981"/>
<rect x="401.05" y="965.5" width="4.40" height="3.0" fill="#089981"/>
<rect x="405.56" y="952.0" width="4.40" height="8.5" fill="#089981"/>
<rect x="411.62" y="937.2" width="1.3" height="17.3" fill="#f23645"/>
<rect x="410.07" y="943.0" width="4.40" height="3.2" fill="#f23645"/>
<rect x="416.14" y="944.0" width="1.3" height="8.5" fill="#089981"/>
<rect x="414.59" y="946.5" width="4.40" height="1.5" fill="#089981"/>
<rect x="420.65" y="936.2" width="1.3" height="9.8" fill="#089981"/>
<rect x="419.10" y="936.2" width="4.40" height="8.6" fill="#089981"/>
<rect x="423.61" y="920.0" width="4.40" height="10.0" fill="#089981"/>
<rect x="429.68" y="917.2" width="1.3" height="8.3" fill="#089981"/>
<rect x="428.13" y="917.2" width="4.40" height="1.3" fill="#089981"/>
<rect x="434.19" y="914.0" width="1.3" height="15.0" fill="#f23645"/>
<rect x="432.64" y="920.0" width="4.40" height="8.5" fill="#f23645"/>
<rect x="438.71" y="922.5" width="1.3" height="23.0" fill="#f23645"/>
<rect x="437.16" y="925.0" width="4.40" height="20.5" fill="#f23645"/>
<rect x="443.22" y="936.0" width="1.3" height="14.0" fill="#089981"/>
<rect x="441.67" y="938.0" width="4.40" height="7.5" fill="#089981"/>
<rect x="447.73" y="927.0" width="1.3" height="9.0" fill="#089981"/>
<rect x="446.18" y="928.0" width="4.40" height="5.0" fill="#089981"/>
<rect x="450.70" y="927.5" width="4.40" height="17.8" fill="#f23645"/>
<rect x="456.76" y="943.0" width="1.3" height="8.0" fill="#f23645"/>
<rect x="455.21" y="947.5" width="4.40" height="3.0" fill="#f23645"/>
<rect x="461.27" y="941.5" width="1.3" height="7.0" fill="#089981"/>
<rect x="459.72" y="947.2" width="4.40" height="1.3" fill="#089981"/>
<rect x="464.24" y="947.5" width="4.40" height="15.3" fill="#f23645"/>
<rect x="470.30" y="960.5" width="1.3" height="14.0" fill="#089981"/>
<rect x="468.75" y="963.0" width="4.40" height="5.0" fill="#089981"/>
<rect x="474.82" y="954.0" width="1.3" height="17.5" fill="#f23645"/>
<rect x="473.27" y="955.5" width="4.40" height="16.0" fill="#f23645"/>
<rect x="479.33" y="970.2" width="1.3" height="9.6" fill="#f23645"/>
<rect x="477.78" y="970.2" width="4.40" height="7.8" fill="#f23645"/>
<rect x="483.84" y="965.5" width="1.3" height="9.0" fill="#089981"/>
<rect x="482.29" y="971.2" width="4.40" height="2.8" fill="#089981"/>
<rect x="488.36" y="959.2" width="1.3" height="14.6" fill="#089981"/>
<rect x="486.81" y="959.2" width="4.40" height="10.8" fill="#089981"/>
<rect x="492.87" y="952.0" width="1.3" height="6.0" fill="#f23645"/>
<rect x="491.32" y="956.2" width="4.40" height="1.8" fill="#f23645"/>
<rect x="497.38" y="957.0" width="1.3" height="9.5" fill="#f23645"/>
<rect x="495.83" y="958.0" width="4.40" height="7.5" fill="#f23645"/>
<rect x="501.90" y="962.5" width="1.3" height="8.7" fill="#f23645"/>
<rect x="500.35" y="963.8" width="4.40" height="6.2" fill="#f23645"/>
<rect x="506.41" y="965.0" width="1.3" height="9.0" fill="#089981"/>
<rect x="504.86" y="966.0" width="4.40" height="8.0" fill="#089981"/>
<rect x="510.92" y="966.0" width="1.3" height="9.8" fill="#f23645"/>
<rect x="509.37" y="966.0" width="4.40" height="9.0" fill="#f23645"/>
<rect x="515.44" y="972.0" width="1.3" height="7.0" fill="#089981"/>
<rect x="513.89" y="975.0" width="4.40" height="1.2" fill="#089981"/>
<rect x="519.95" y="962.5" width="1.3" height="11.3" fill="#089981"/>
<rect x="518.40" y="963.2" width="4.40" height="10.6" fill="#089981"/>
<rect x="524.47" y="959.0" width="1.3" height="7.8" fill="#f23645"/>
<rect x="522.92" y="963.2" width="4.40" height="2.8" fill="#f23645"/>
<rect x="527.43" y="963.5" width="4.40" height="2.0" fill="#089981"/>
<rect x="531.94" y="962.8" width="4.40" height="2.0" fill="#f23645"/>
<rect x="538.01" y="952.0" width="1.3" height="10.0" fill="#089981"/>
<rect x="536.46" y="952.8" width="4.40" height="6.2" fill="#089981"/>
<rect x="542.52" y="944.0" width="1.3" height="7.5" fill="#089981"/>
<rect x="540.97" y="950.0" width="4.40" height="1.5" fill="#089981"/>
<rect x="547.03" y="947.0" width="1.3" height="7.0" fill="#f23645"/>
<rect x="545.48" y="948.0" width="4.40" height="4.5" fill="#f23645"/>
<rect x="551.55" y="940.5" width="1.3" height="4.3" fill="#089981"/>
<rect x="550.00" y="940.8" width="4.40" height="1.2" fill="#089981"/>
<rect x="556.06" y="938.8" width="1.3" height="7.2" fill="#f23645"/>
<rect x="554.51" y="941.2" width="4.40" height="4.8" fill="#f23645"/>
<rect x="560.58" y="943.5" width="1.3" height="8.7" fill="#f23645"/>
<rect x="559.03" y="945.0" width="4.40" height="7.2" fill="#f23645"/>
<rect x="565.09" y="946.5" width="1.3" height="4.5" fill="#f23645"/>
<rect x="563.54" y="947.8" width="4.40" height="2.0" fill="#f23645"/>
<rect x="569.60" y="945.5" width="1.3" height="8.5" fill="#089981"/>
<rect x="568.05" y="946.5" width="4.40" height="5.0" fill="#089981"/>
<rect x="574.12" y="941.0" width="1.3" height="15.2" fill="#f23645"/>
<rect x="572.57" y="945.5" width="4.40" height="8.5" fill="#f23645"/>
<rect x="578.63" y="947.0" width="1.3" height="7.0" fill="#089981"/>
<rect x="577.08" y="947.0" width="4.40" height="4.0" fill="#089981"/>
<rect x="583.14" y="947.8" width="1.3" height="4.0" fill="#f23645"/>
<rect x="581.59" y="948.5" width="4.40" height="2.5" fill="#f23645"/>
<rect x="587.66" y="947.5" width="1.3" height="5.0" fill="#089981"/>
<rect x="586.11" y="951.0" width="4.40" height="1.5" fill="#089981"/>
<rect x="592.17" y="945.0" width="1.3" height="4.8" fill="#f23645"/>
<rect x="590.62" y="947.5" width="4.40" height="2.3" fill="#f23645"/>
<rect x="596.69" y="946.2" width="1.3" height="5.6" fill="#089981"/>
<rect x="595.14" y="946.2" width="4.40" height="2.8" fill="#089981"/>
<rect x="601.20" y="943.5" width="1.3" height="4.3" fill="#f23645"/>
<rect x="599.65" y="944.5" width="4.40" height="3.3" fill="#f23645"/>
<rect x="604.16" y="941.2" width="4.40" height="5.6" fill="#f23645"/>
<rect x="610.23" y="941.2" width="1.3" height="3.8" fill="#089981"/>
<rect x="608.68" y="943.5" width="4.40" height="1.5" fill="#089981"/>
<rect x="613.19" y="939.2" width="4.40" height="3.0" fill="#089981"/>
<rect x="619.25" y="938.0" width="1.3" height="3.8" fill="#f23645"/>
<rect x="617.70" y="938.8" width="4.40" height="2.4" fill="#f23645"/>
<rect x="623.77" y="936.8" width="1.3" height="3.0" fill="#089981"/>
<rect x="622.22" y="938.8" width="4.40" height="1.0" fill="#089981"/>
<rect x="628.28" y="932.2" width="1.3" height="5.8" fill="#089981"/>
<rect x="626.73" y="932.2" width="4.40" height="4.0" fill="#089981"/>
<rect x="632.79" y="927.2" width="1.3" height="7.6" fill="#089981"/>
<rect x="631.24" y="932.2" width="4.40" height="2.6" fill="#089981"/>
<rect x="635.76" y="915.2" width="4.40" height="8.0" fill="#089981"/>
<rect x="641.82" y="907.5" width="1.3" height="22.0" fill="#f23645"/>
<rect x="640.27" y="910.0" width="4.40" height="17.8" fill="#f23645"/>
<rect x="646.34" y="922.0" width="1.3" height="10.8" fill="#089981"/>
<rect x="644.79" y="923.5" width="4.40" height="7.3" fill="#089981"/>
<rect x="649.30" y="925.2" width="4.40" height="7.0" fill="#f23645"/>
<rect x="655.36" y="923.5" width="1.3" height="7.3" fill="#089981"/>
<rect x="653.81" y="926.8" width="4.40" height="4.0" fill="#089981"/>
<rect x="659.88" y="919.0" width="1.3" height="9.0" fill="#089981"/>
<rect x="658.33" y="924.0" width="4.40" height="3.2" fill="#089981"/>
<rect x="664.39" y="918.8" width="1.3" height="7.0" fill="#f23645"/>
<rect x="662.84" y="920.0" width="4.40" height="4.5" fill="#f23645"/>
<rect x="668.90" y="911.5" width="1.3" height="10.7" fill="#089981"/>
<rect x="667.35" y="917.0" width="4.40" height="5.2" fill="#089981"/>
<rect x="673.42" y="906.0" width="1.3" height="5.8" fill="#089981"/>
<rect x="671.87" y="906.8" width="4.40" height="4.4" fill="#089981"/>
<rect x="677.93" y="898.0" width="1.3" height="16.2" fill="#089981"/>
<rect x="676.38" y="900.0" width="4.40" height="6.5" fill="#089981"/>
<rect x="682.45" y="891.5" width="1.3" height="13.5" fill="#089981"/>
<rect x="680.90" y="896.2" width="4.40" height="5.6" fill="#089981"/>
<rect x="686.96" y="886.8" width="1.3" height="10.2" fill="#089981"/>
<rect x="685.41" y="888.0" width="4.40" height="7.5" fill="#089981"/>
<rect x="691.47" y="886.5" width="1.3" height="15.5" fill="#f23645"/>
<rect x="689.92" y="887.5" width="4.40" height="11.5" fill="#f23645"/>
<rect x="695.99" y="878.0" width="1.3" height="11.0" fill="#089981"/>
<rect x="694.44" y="878.0" width="4.40" height="8.8" fill="#089981"/>
<rect x="700.50" y="861.0" width="1.3" height="20.2" fill="#089981"/>
<rect x="698.95" y="870.2" width="4.40" height="6.6" fill="#089981"/>
<rect x="705.01" y="855.5" width="1.3" height="24.5" fill="#089981"/>
<rect x="703.46" y="858.0" width="4.40" height="5.5" fill="#089981"/>
<rect x="709.53" y="856.0" width="1.3" height="8.5" fill="#089981"/>
<rect x="707.98" y="860.5" width="4.40" height="1.0" fill="#089981"/>
<rect x="714.04" y="840.0" width="1.3" height="22.0" fill="#089981"/>
<rect x="712.49" y="844.0" width="4.40" height="14.5" fill="#089981"/>
<rect x="718.56" y="818.0" width="1.3" height="19.5" fill="#089981"/>
<rect x="717.00" y="824.0" width="4.40" height="13.0" fill="#089981"/>
<rect x="723.07" y="819.0" width="1.3" height="13.0" fill="#089981"/>
<rect x="721.52" y="820.0" width="4.40" height="1.0" fill="#089981"/>
<rect x="727.58" y="792.0" width="1.3" height="31.0" fill="#089981"/>
<rect x="726.03" y="792.0" width="4.40" height="26.5" fill="#089981"/>
<rect x="732.10" y="763.0" width="1.3" height="45.0" fill="#f23645"/>
<rect x="730.55" y="780.0" width="4.40" height="24.5" fill="#f23645"/>
<rect x="736.61" y="791.0" width="1.3" height="35.0" fill="#f23645"/>
<rect x="735.06" y="798.5" width="4.40" height="18.0" fill="#f23645"/>
<rect x="741.12" y="788.5" width="1.3" height="22.0" fill="#089981"/>
<rect x="739.57" y="788.5" width="4.40" height="21.0" fill="#089981"/>
<rect x="745.64" y="772.0" width="1.3" height="17.5" fill="#f23645"/>
<rect x="744.09" y="781.5" width="4.40" height="4.0" fill="#f23645"/>
<rect x="750.15" y="774.0" width="1.3" height="18.0" fill="#f23645"/>
<rect x="748.60" y="779.5" width="4.40" height="9.0" fill="#f23645"/>
<rect x="754.66" y="779.0" width="1.3" height="18.0" fill="#089981"/>
<rect x="753.11" y="779.0" width="4.40" height="5.5" fill="#089981"/>
<rect x="759.18" y="747.0" width="1.3" height="22.0" fill="#089981"/>
<rect x="757.63" y="748.5" width="4.40" height="11.5" fill="#089981"/>
<rect x="763.69" y="738.0" width="1.3" height="46.0" fill="#f23645"/>
<rect x="762.14" y="748.5" width="4.40" height="35.5" fill="#f23645"/>
<rect x="768.21" y="766.0" width="1.3" height="31.8" fill="#089981"/>
<rect x="766.66" y="776.5" width="4.40" height="11.5" fill="#089981"/>
<rect x="772.72" y="753.0" width="1.3" height="27.5" fill="#f23645"/>
<rect x="771.17" y="759.5" width="4.40" height="11.0" fill="#f23645"/>
<rect x="777.23" y="755.0" width="1.3" height="18.0" fill="#089981"/>
<rect x="775.68" y="755.0" width="4.40" height="5.0" fill="#089981"/>
<rect x="781.75" y="720.0" width="1.3" height="25.5" fill="#089981"/>
<rect x="780.20" y="720.0" width="4.40" height="22.0" fill="#089981"/>
<rect x="786.26" y="694.0" width="1.3" height="43.8" fill="#089981"/>
<rect x="784.71" y="712.0" width="4.40" height="16.5" fill="#089981"/>
<rect x="790.77" y="712.0" width="1.3" height="38.5" fill="#f23645"/>
<rect x="789.22" y="720.0" width="4.40" height="30.5" fill="#f23645"/>
<rect x="795.29" y="754.5" width="1.3" height="32.0" fill="#089981"/>
<rect x="793.74" y="785.5" width="4.40" height="1.0" fill="#089981"/>
<rect x="799.80" y="776.0" width="1.3" height="41.0" fill="#f23645"/>
<rect x="798.25" y="781.5" width="4.40" height="35.0" fill="#f23645"/>
<rect x="804.32" y="817.0" width="1.3" height="28.5" fill="#f23645"/>
<rect x="802.77" y="837.0" width="4.40" height="8.5" fill="#f23645"/>
<rect x="808.83" y="819.2" width="1.3" height="16.3" fill="#089981"/>
<rect x="807.28" y="819.2" width="4.40" height="5.8" fill="#089981"/>
<rect x="811.79" y="793.0" width="4.40" height="14.0" fill="#089981"/>
<rect x="817.86" y="766.5" width="1.3" height="24.5" fill="#089981"/>
<rect x="816.31" y="788.0" width="4.40" height="3.0" fill="#089981"/>
<rect x="822.37" y="756.0" width="1.3" height="19.0" fill="#089981"/>
<rect x="820.82" y="756.0" width="4.40" height="16.0" fill="#089981"/>
<rect x="826.88" y="729.0" width="1.3" height="32.0" fill="#089981"/>
<rect x="825.33" y="748.7" width="4.40" height="5.3" fill="#089981"/>
<rect x="831.40" y="733.0" width="1.3" height="50.5" fill="#f23645"/>
<rect x="829.85" y="736.5" width="4.40" height="29.5" fill="#f23645"/>
<rect x="835.91" y="747.0" width="1.3" height="31.0" fill="#089981"/>
<rect x="834.36" y="753.0" width="4.40" height="9.0" fill="#089981"/>
<rect x="840.42" y="736.0" width="1.3" height="16.0" fill="#089981"/>
<rect x="838.87" y="744.5" width="4.40" height="4.0" fill="#089981"/>
<rect x="844.94" y="708.5" width="1.3" height="35.3" fill="#089981"/>
<rect x="843.39" y="708.5" width="4.40" height="28.5" fill="#089981"/>
<rect x="849.45" y="671.8" width="1.3" height="35.2" fill="#f23645"/>
<rect x="847.90" y="696.5" width="4.40" height="3.5" fill="#f23645"/>
<rect x="853.97" y="661.0" width="1.3" height="40.0" fill="#089981"/>
<rect x="852.42" y="661.0" width="4.40" height="27.0" fill="#089981"/>
<rect x="858.48" y="630.0" width="1.3" height="23.5" fill="#089981"/>
<rect x="856.93" y="651.5" width="4.40" height="2.0" fill="#089981"/>
<rect x="862.99" y="612.0" width="1.3" height="30.0" fill="#089981"/>
<rect x="861.44" y="616.0" width="4.40" height="20.8" fill="#089981"/>
<rect x="867.51" y="608.0" width="1.3" height="20.5" fill="#f23645"/>
<rect x="865.96" y="616.0" width="4.40" height="11.0" fill="#f23645"/>
<rect x="872.02" y="609.5" width="1.3" height="58.0" fill="#f23645"/>
<rect x="870.47" y="616.0" width="4.40" height="35.0" fill="#f23645"/>
<rect x="876.53" y="629.0" width="1.3" height="22.0" fill="#089981"/>
<rect x="874.98" y="630.0" width="4.40" height="21.0" fill="#089981"/>
<rect x="881.05" y="609.5" width="1.3" height="26.5" fill="#f23645"/>
<rect x="879.50" y="612.0" width="4.40" height="16.8" fill="#f23645"/>
<rect x="885.56" y="618.0" width="1.3" height="42.8" fill="#f23645"/>
<rect x="884.01" y="622.0" width="4.40" height="17.0" fill="#f23645"/>
<rect x="890.08" y="596.2" width="1.3" height="39.8" fill="#089981"/>
<rect x="888.53" y="596.2" width="4.40" height="34.6" fill="#089981"/>
<rect x="894.59" y="547.0" width="1.3" height="42.4" fill="#089981"/>
<rect x="893.04" y="547.0" width="4.40" height="37.0" fill="#089981"/>
<rect x="899.10" y="499.7" width="1.3" height="62.9" fill="#f23645"/>
<rect x="897.55" y="538.8" width="4.40" height="18.2" fill="#f23645"/>
<rect x="903.62" y="545.0" width="1.3" height="38.2" fill="#089981"/>
<rect x="902.07" y="545.0" width="4.40" height="12.0" fill="#089981"/>
<rect x="908.13" y="520.0" width="1.3" height="38.7" fill="#089981"/>
<rect x="906.58" y="530.4" width="4.40" height="27.0" fill="#089981"/>
<rect x="912.64" y="475.0" width="1.3" height="59.5" fill="#089981"/>
<rect x="911.09" y="481.0" width="4.40" height="53.5" fill="#089981"/>
<rect x="917.16" y="448.5" width="1.3" height="44.5" fill="#f23645"/>
<rect x="915.61" y="455.0" width="4.40" height="20.2" fill="#f23645"/>
<rect x="921.67" y="487.6" width="1.3" height="49.2" fill="#f23645"/>
<rect x="920.12" y="497.4" width="4.40" height="39.4" fill="#f23645"/>
<rect x="926.19" y="481.0" width="1.3" height="66.0" fill="#089981"/>
<rect x="924.64" y="481.0" width="4.40" height="64.0" fill="#089981"/>
<rect x="930.70" y="448.5" width="1.3" height="36.5" fill="#089981"/>
<rect x="929.15" y="448.5" width="4.40" height="12.5" fill="#089981"/>
<rect x="933.66" y="383.7" width="4.40" height="32.1" fill="#089981"/>
<rect x="939.73" y="345.9" width="1.3" height="61.7" fill="#f23645"/>
<rect x="938.18" y="367.2" width="4.40" height="1.9" fill="#f23645"/>
<rect x="942.69" y="296.9" width="4.40" height="64.1" fill="#089981"/>
<rect x="948.75" y="220.0" width="1.3" height="85.2" fill="#089981"/>
<rect x="947.20" y="232.1" width="4.40" height="37.0" fill="#089981"/>
<rect x="953.27" y="206.9" width="1.3" height="77.9" fill="#f23645"/>
<rect x="951.72" y="232.1" width="4.40" height="26.6" fill="#f23645"/>
<rect x="957.78" y="211.8" width="1.3" height="83.8" fill="#089981"/>
<rect x="956.23" y="214.8" width="4.40" height="1.7" fill="#089981"/>
<rect x="962.29" y="150.5" width="1.3" height="85.4" fill="#089981"/>
<rect x="960.74" y="187.0" width="4.40" height="22.8" fill="#089981"/>
<rect x="966.81" y="201.0" width="1.3" height="75.7" fill="#f23645"/>
<rect x="965.26" y="221.7" width="4.40" height="55.0" fill="#f23645"/>
<rect x="971.32" y="232.1" width="1.3" height="125.9" fill="#089981"/>
<rect x="969.77" y="254.5" width="4.40" height="22.2" fill="#089981"/>
<rect x="975.84" y="279.0" width="1.3" height="60.1" fill="#089981"/>
<rect x="974.29" y="337.8" width="4.40" height="1.3" fill="#089981"/>
<rect x="980.35" y="295.6" width="1.3" height="93.7" fill="#f23645"/>
<rect x="978.80" y="305.9" width="4.40" height="48.9" fill="#f23645"/>
<rect x="983.31" y="338.5" width="4.40" height="89.9" fill="#f23645"/>
<rect x="989.38" y="460.9" width="1.3" height="35.4" fill="#f23645"/>
<rect x="987.83" y="465.4" width="4.40" height="30.9" fill="#f23645"/>
<rect x="992.34" y="436.3" width="4.40" height="37.0" fill="#089981"/>
<rect x="998.40" y="370.4" width="1.3" height="45.4" fill="#089981"/>
<rect x="996.85" y="373.0" width="4.40" height="42.8" fill="#089981"/>
<rect x="1002.92" y="330.0" width="1.3" height="21.9" fill="#089981"/>
<rect x="1001.37" y="341.7" width="4.40" height="1.3" fill="#089981"/>
<rect x="1007.43" y="354.8" width="1.3" height="60.6" fill="#f23645"/>
<rect x="1005.88" y="354.8" width="4.40" height="55.0" fill="#f23645"/>
<rect x="1011.95" y="352.2" width="1.3" height="125.0" fill="#f23645"/>
<rect x="1010.40" y="367.2" width="4.40" height="102.1" fill="#f23645"/>
<rect x="1016.46" y="459.6" width="1.3" height="72.4" fill="#f23645"/>
<rect x="1014.91" y="459.6" width="4.40" height="56.0" fill="#f23645"/>
<rect x="1020.97" y="460.9" width="1.3" height="69.1" fill="#089981"/>
<rect x="1019.42" y="473.3" width="4.40" height="26.7" fill="#089981"/>
<rect x="1025.49" y="475.0" width="1.3" height="55.0" fill="#f23645"/>
<rect x="1023.94" y="479.0" width="4.40" height="49.7" fill="#f23645"/>
<rect x="1030.00" y="541.1" width="1.3" height="44.3" fill="#f23645"/>
<rect x="1028.45" y="557.1" width="4.40" height="28.3" fill="#f23645"/>
<rect x="1034.51" y="559.3" width="1.3" height="66.5" fill="#089981"/>
<rect x="1032.96" y="565.8" width="4.40" height="19.6" fill="#089981"/>
<rect x="1039.03" y="512.0" width="1.3" height="52.9" fill="#089981"/>
<rect x="1037.48" y="512.0" width="4.40" height="35.2" fill="#089981"/>
<rect x="1043.54" y="487.6" width="1.3" height="79.1" fill="#f23645"/>
<rect x="1041.99" y="509.8" width="4.40" height="53.9" fill="#f23645"/>
<rect x="1048.06" y="512.0" width="1.3" height="84.8" fill="#089981"/>
<rect x="1046.51" y="524.1" width="4.40" height="35.6" fill="#089981"/>
<rect x="1052.57" y="503.6" width="1.3" height="36.8" fill="#089981"/>
<rect x="1051.02" y="526.3" width="4.40" height="1.7" fill="#089981"/>
<rect x="1057.08" y="509.8" width="1.3" height="17.0" fill="#089981"/>
<rect x="1055.53" y="515.6" width="4.40" height="11.1" fill="#089981"/>
<rect x="1061.60" y="512.0" width="1.3" height="29.7" fill="#f23645"/>
<rect x="1060.05" y="515.6" width="4.40" height="21.1" fill="#f23645"/>
<rect x="1066.11" y="493.7" width="1.3" height="48.0" fill="#089981"/>
<rect x="1064.56" y="522.2" width="4.40" height="16.3" fill="#089981"/>
<rect x="1070.62" y="499.7" width="1.3" height="21.1" fill="#f23645"/>
<rect x="1069.07" y="518.2" width="4.40" height="2.3" fill="#f23645"/>
<rect x="1075.14" y="496.1" width="1.3" height="42.0" fill="#f23645"/>
<rect x="1073.59" y="501.9" width="4.40" height="30.6" fill="#f23645"/>
<rect x="1079.65" y="524.1" width="1.3" height="60.6" fill="#f23645"/>
<rect x="1078.10" y="530.2" width="4.40" height="33.4" fill="#f23645"/>
<rect x="1084.16" y="542.4" width="1.3" height="26.5" fill="#089981"/>
<rect x="1082.61" y="542.4" width="4.40" height="11.1" fill="#089981"/>
<rect x="1088.68" y="532.9" width="1.3" height="36.5" fill="#f23645"/>
<rect x="1087.13" y="541.1" width="4.40" height="28.3" fill="#f23645"/>
<rect x="1093.19" y="551.1" width="1.3" height="23.9" fill="#f23645"/>
<rect x="1091.64" y="561.3" width="4.40" height="8.1" fill="#f23645"/>
<rect x="1097.71" y="551.1" width="1.3" height="35.6" fill="#f23645"/>
<rect x="1096.16" y="557.1" width="4.40" height="28.9" fill="#f23645"/>
<rect x="1102.22" y="535.8" width="1.3" height="59.6" fill="#089981"/>
<rect x="1100.67" y="535.8" width="4.40" height="49.6" fill="#089981"/>
<rect x="1106.73" y="525.0" width="1.3" height="45.4" fill="#f23645"/>
<rect x="1105.18" y="535.8" width="4.40" height="33.9" fill="#f23645"/>
<rect x="1111.25" y="544.1" width="1.3" height="22.7" fill="#089981"/>
<rect x="1109.70" y="550.2" width="4.40" height="3.9" fill="#089981"/>
<rect x="1115.76" y="496.1" width="1.3" height="34.6" fill="#089981"/>
<rect x="1114.21" y="501.9" width="4.40" height="25.4" fill="#089981"/>
<rect x="1120.27" y="485.4" width="1.3" height="37.4" fill="#f23645"/>
<rect x="1118.72" y="489.8" width="4.40" height="29.1" fill="#f23645"/>
<rect x="1124.79" y="496.1" width="1.3" height="28.4" fill="#089981"/>
<rect x="1123.24" y="501.9" width="4.40" height="13.0" fill="#089981"/>
<rect x="1129.30" y="498.0" width="1.3" height="24.8" fill="#f23645"/>
<rect x="1127.75" y="504.6" width="4.40" height="3.9" fill="#f23645"/>
<rect x="1133.82" y="500.3" width="1.3" height="22.6" fill="#089981"/>
<rect x="1132.27" y="515.0" width="4.40" height="1.7" fill="#089981"/>
<rect x="1138.33" y="504.2" width="1.3" height="14.7" fill="#f23645"/>
<rect x="1136.78" y="508.1" width="4.40" height="10.8" fill="#f23645"/>
<rect x="1142.84" y="510.2" width="1.3" height="27.6" fill="#f23645"/>
<rect x="1141.29" y="515.0" width="4.40" height="21.5" fill="#f23645"/>
<rect x="1147.36" y="529.7" width="1.3" height="45.2" fill="#f23645"/>
<rect x="1145.81" y="533.6" width="4.40" height="33.5" fill="#f23645"/>
<rect x="1151.87" y="554.1" width="1.3" height="30.6" fill="#089981"/>
<rect x="1150.32" y="562.6" width="4.40" height="15.4" fill="#089981"/>
<rect x="1156.38" y="556.3" width="1.3" height="35.6" fill="#f23645"/>
<rect x="1154.83" y="558.9" width="4.40" height="20.0" fill="#f23645"/>
<rect x="1160.90" y="579.3" width="1.3" height="31.6" fill="#f23645"/>
<rect x="1159.35" y="581.1" width="4.40" height="29.7" fill="#f23645"/>
<rect x="1165.41" y="564.9" width="1.3" height="30.5" fill="#089981"/>
<rect x="1163.86" y="569.4" width="4.40" height="24.5" fill="#089981"/>
<rect x="1169.92" y="567.2" width="1.3" height="15.6" fill="#f23645"/>
<rect x="1168.38" y="573.7" width="4.40" height="3.9" fill="#f23645"/>
<rect x="1174.44" y="564.9" width="1.3" height="14.0" fill="#f23645"/>
<rect x="1172.89" y="571.1" width="4.40" height="4.3" fill="#f23645"/>
<rect x="1178.95" y="541.7" width="1.3" height="37.2" fill="#089981"/>
<rect x="1177.40" y="545.9" width="4.40" height="32.1" fill="#089981"/>
<rect x="1183.47" y="531.0" width="1.3" height="21.4" fill="#f23645"/>
<rect x="1181.92" y="542.0" width="4.40" height="10.4" fill="#f23645"/>
<rect x="1187.98" y="541.7" width="1.3" height="48.0" fill="#f23645"/>
<rect x="1186.43" y="545.9" width="4.40" height="42.1" fill="#f23645"/>
<rect x="1192.49" y="577.6" width="1.3" height="26.5" fill="#089981"/>
<rect x="1190.94" y="582.6" width="4.40" height="1.0" fill="#089981"/>
<rect x="1197.01" y="579.3" width="1.3" height="7.8" fill="#f23645"/>
<rect x="1195.46" y="579.3" width="4.40" height="5.7" fill="#f23645"/>
<rect x="1201.52" y="564.5" width="1.3" height="20.2" fill="#089981"/>
<rect x="1199.97" y="569.4" width="4.40" height="13.0" fill="#089981"/>
<rect x="1206.03" y="571.1" width="1.3" height="14.3" fill="#089981"/>
<rect x="1204.48" y="581.5" width="4.40" height="3.9" fill="#089981"/>
<rect x="1210.55" y="562.3" width="1.3" height="10.7" fill="#f23645"/>
<rect x="1209.00" y="569.8" width="4.40" height="2.0" fill="#f23645"/>
<rect x="1215.06" y="537.8" width="1.3" height="24.8" fill="#089981"/>
<rect x="1213.51" y="544.3" width="4.40" height="18.3" fill="#089981"/>
<rect x="1219.58" y="525.0" width="1.3" height="31.0" fill="#f23645"/>
<rect x="1218.03" y="533.6" width="4.40" height="20.1" fill="#f23645"/>
<rect x="1224.09" y="569.1" width="1.3" height="12.0" fill="#f23645"/>
<rect x="1222.54" y="573.3" width="4.40" height="6.3" fill="#f23645"/>
<rect x="1228.60" y="577.6" width="1.3" height="18.6" fill="#089981"/>
<rect x="1227.05" y="590.2" width="4.40" height="6.0" fill="#089981"/>
<rect x="1233.12" y="573.0" width="1.3" height="16.3" fill="#089981"/>
<rect x="1231.57" y="578.0" width="4.40" height="3.9" fill="#089981"/>
<rect x="1237.63" y="590.0" width="1.3" height="39.8" fill="#f23645"/>
<rect x="1236.08" y="591.9" width="4.40" height="37.8" fill="#f23645"/>
<rect x="1242.14" y="625.0" width="1.3" height="50.6" fill="#f23645"/>
<rect x="1240.59" y="627.1" width="4.40" height="48.5" fill="#f23645"/>
<rect x="1246.66" y="664.9" width="1.3" height="37.8" fill="#089981"/>
<rect x="1245.11" y="673.3" width="4.40" height="24.5" fill="#089981"/>
<rect x="1251.17" y="667.2" width="1.3" height="28.7" fill="#f23645"/>
<rect x="1249.62" y="667.2" width="4.40" height="27.8" fill="#f23645"/>
<rect x="1255.69" y="658.7" width="1.3" height="26.1" fill="#089981"/>
<rect x="1254.14" y="675.6" width="4.40" height="4.2" fill="#089981"/>
<rect x="1260.20" y="669.4" width="1.3" height="19.6" fill="#f23645"/>
<rect x="1258.65" y="673.3" width="4.40" height="12.1" fill="#f23645"/>
<rect x="1264.71" y="691.0" width="1.3" height="35.7" fill="#f23645"/>
<rect x="1263.16" y="699.4" width="4.40" height="26.1" fill="#f23645"/>
<rect x="1269.23" y="701.1" width="1.3" height="15.6" fill="#f23645"/>
<rect x="1267.68" y="710.8" width="4.40" height="5.2" fill="#f23645"/>
<rect x="1273.74" y="692.3" width="1.3" height="27.6" fill="#089981"/>
<rect x="1272.19" y="705.4" width="4.40" height="1.3" fill="#089981"/>
<rect x="1278.25" y="700.7" width="1.3" height="11.2" fill="#f23645"/>
<rect x="1276.70" y="703.0" width="4.40" height="8.9" fill="#f23645"/>
<rect x="1282.77" y="717.4" width="1.3" height="28.7" fill="#089981"/>
<rect x="1281.22" y="717.4" width="4.40" height="3.3" fill="#089981"/>
<rect x="1287.28" y="707.6" width="1.3" height="13.0" fill="#f23645"/>
<rect x="1285.73" y="716.3" width="4.40" height="4.3" fill="#f23645"/>
<rect x="1291.79" y="708.2" width="1.3" height="13.3" fill="#f23645"/>
<rect x="1290.24" y="716.3" width="4.40" height="5.2" fill="#f23645"/>
<rect x="1296.31" y="710.2" width="1.3" height="8.7" fill="#f23645"/>
<rect x="1294.76" y="716.7" width="4.40" height="2.2" fill="#f23645"/>
<rect x="1300.82" y="713.2" width="1.3" height="17.2" fill="#f23645"/>
<rect x="1299.27" y="714.7" width="4.40" height="15.6" fill="#f23645"/>
<rect x="1305.34" y="699.1" width="1.3" height="35.5" fill="#089981"/>
<rect x="1303.79" y="705.4" width="4.40" height="29.2" fill="#089981"/>
<rect x="1309.85" y="697.8" width="1.3" height="13.7" fill="#f23645"/>
<rect x="1308.30" y="702.4" width="4.40" height="3.9" fill="#f23645"/>
<rect x="1314.36" y="706.9" width="1.3" height="9.1" fill="#f23645"/>
<rect x="1312.81" y="710.8" width="4.40" height="5.2" fill="#f23645"/>
<rect x="1318.88" y="700.1" width="1.3" height="15.3" fill="#089981"/>
<rect x="1317.33" y="714.1" width="4.40" height="1.3" fill="#089981"/>
<rect x="1323.39" y="679.3" width="1.3" height="28.7" fill="#089981"/>
<rect x="1321.84" y="688.0" width="4.40" height="20.0" fill="#089981"/>
<rect x="1327.90" y="669.4" width="1.3" height="15.1" fill="#f23645"/>
<rect x="1326.35" y="677.2" width="4.40" height="7.3" fill="#f23645"/>
<rect x="1332.42" y="654.1" width="1.3" height="27.0" fill="#089981"/>
<rect x="1330.87" y="664.9" width="4.40" height="10.7" fill="#089981"/>
<rect x="1336.93" y="625.0" width="1.3" height="33.6" fill="#089981"/>
<rect x="1335.38" y="635.9" width="4.40" height="22.8" fill="#089981"/>
<rect x="1341.45" y="615.4" width="1.3" height="32.2" fill="#f23645"/>
<rect x="1339.90" y="618.9" width="4.40" height="27.8" fill="#f23645"/>
<rect x="1345.96" y="627.4" width="1.3" height="24.8" fill="#089981"/>
<rect x="1344.41" y="627.4" width="4.40" height="17.0" fill="#089981"/>
<rect x="1350.47" y="585.2" width="1.3" height="39.5" fill="#089981"/>
<rect x="1348.92" y="585.2" width="4.40" height="23.5" fill="#089981"/>
<rect x="1354.99" y="575.1" width="1.3" height="26.6" fill="#089981"/>
<rect x="1353.44" y="593.0" width="4.40" height="1.3" fill="#089981"/>
<rect x="1359.50" y="583.5" width="1.3" height="20.6" fill="#f23645"/>
<rect x="1357.95" y="598.2" width="4.40" height="4.8" fill="#f23645"/>
<rect x="1364.01" y="592.1" width="1.3" height="60.2" fill="#f23645"/>
<rect x="1362.46" y="600.8" width="4.40" height="45.2" fill="#f23645"/>
<rect x="1368.53" y="623.4" width="1.3" height="26.6" fill="#f23645"/>
<rect x="1366.98" y="633.8" width="4.40" height="4.2" fill="#f23645"/>
<rect x="1373.04" y="621.0" width="1.3" height="20.9" fill="#f23645"/>
<rect x="1371.49" y="625.0" width="4.40" height="10.7" fill="#f23645"/>
<rect x="1377.56" y="604.1" width="1.3" height="34.6" fill="#089981"/>
<rect x="1376.01" y="604.1" width="4.40" height="31.6" fill="#089981"/>
<rect x="1382.07" y="600.2" width="1.3" height="18.3" fill="#f23645"/>
<rect x="1380.52" y="601.5" width="4.40" height="14.1" fill="#f23645"/>
<rect x="1386.58" y="596.0" width="1.3" height="20.1" fill="#089981"/>
<rect x="1385.03" y="607.0" width="4.40" height="6.0" fill="#089981"/>
<rect x="1391.10" y="593.7" width="1.3" height="24.8" fill="#f23645"/>
<rect x="1389.55" y="602.1" width="4.40" height="13.0" fill="#f23645"/>
<rect x="1395.61" y="593.7" width="1.3" height="18.5" fill="#089981"/>
<rect x="1394.06" y="604.1" width="4.40" height="5.0" fill="#089981"/>
<rect x="1400.12" y="593.7" width="1.3" height="13.0" fill="#f23645"/>
<rect x="1398.57" y="602.1" width="4.40" height="3.3" fill="#f23645"/>
<rect x="1404.64" y="598.2" width="1.3" height="11.7" fill="#089981"/>
<rect x="1403.09" y="601.5" width="4.40" height="1.3" fill="#089981"/>
<rect x="1409.15" y="577.8" width="1.3" height="22.2" fill="#089981"/>
<rect x="1407.60" y="583.9" width="4.40" height="15.0" fill="#089981"/>
<rect x="1413.66" y="577.8" width="1.3" height="32.6" fill="#f23645"/>
<rect x="1412.11" y="583.9" width="4.40" height="25.2" fill="#f23645"/>
<rect x="1418.18" y="589.7" width="1.3" height="17.0" fill="#089981"/>
<rect x="1416.63" y="601.5" width="4.40" height="1.3" fill="#089981"/>
<rect x="1422.69" y="580.9" width="1.3" height="10.8" fill="#089981"/>
<rect x="1421.14" y="583.9" width="4.40" height="3.9" fill="#089981"/>
<rect x="1427.21" y="577.8" width="1.3" height="11.7" fill="#f23645"/>
<rect x="1425.66" y="581.7" width="4.40" height="2.6" fill="#f23645"/>
<rect x="1431.72" y="537.9" width="1.3" height="45.4" fill="#089981"/>
<rect x="1430.17" y="547.8" width="4.40" height="34.4" fill="#089981"/>
<rect x="1436.23" y="531.1" width="1.3" height="20.9" fill="#f23645"/>
<rect x="1434.68" y="538.2" width="4.40" height="8.2" fill="#f23645"/>
<rect x="1440.75" y="510.2" width="1.3" height="25.4" fill="#089981"/>
<rect x="1439.20" y="515.2" width="4.40" height="18.8" fill="#089981"/>
<rect x="1445.26" y="492.0" width="1.3" height="26.1" fill="#089981"/>
<rect x="1443.71" y="502.1" width="4.40" height="8.7" fill="#089981"/>
<rect x="1449.77" y="480.9" width="1.3" height="26.7" fill="#f23645"/>
<rect x="1448.22" y="490.0" width="4.40" height="14.7" fill="#f23645"/>
<rect x="1454.29" y="492.0" width="1.3" height="18.0" fill="#089981"/>
<rect x="1452.74" y="493.9" width="4.40" height="2.0" fill="#089981"/>
<rect x="1458.80" y="501.7" width="1.3" height="21.3" fill="#f23645"/>
<rect x="1457.25" y="504.3" width="4.40" height="14.3" fill="#f23645"/>
<rect x="1463.32" y="506.0" width="1.3" height="12.6" fill="#f23645"/>
<rect x="1461.77" y="513.1" width="4.40" height="5.6" fill="#f23645"/>
<rect x="1467.83" y="509.9" width="1.3" height="38.1" fill="#f23645"/>
<rect x="1466.28" y="517.0" width="4.40" height="31.0" fill="#f23645"/>
<rect x="1472.34" y="525.2" width="1.3" height="20.9" fill="#089981"/>
<rect x="1470.79" y="526.9" width="4.40" height="17.2" fill="#089981"/>
</g>
<line x1="15.5" y1="754.6" x2="1475.0" y2="754.6" stroke="#f23645" stroke-width="1.6" stroke-dasharray="1.5 3.06" stroke-dashoffset="0.6"/>
<!-- time axis separator and chart frame -->
<line x1="15.5" y1="1131.4" x2="1584.8" y2="1131.4" stroke="#e0e3eb" stroke-width="1.4"/>
<rect x="15.4" y="41.5" width="1569.4" height="1132" fill="none" stroke="#e8ebf0" stroke-width="1.1"/>
<!-- header -->
<text x="16" y="30.5" font-size="18" fill="#131722" stroke="#131722" stroke-width="0.3" textLength="458" lengthAdjust="spacing">發表於TradingView.com，三月 08, 2023 16:27 UTC+8</text>
<!-- legend -->
<g font-size="18" fill="#131722" stroke-width="0.3" class="lg">
<text x="28" y="72.3" textLength="135" lengthAdjust="spacing">長榮, 1天, TWSE</text>
<text x="175" y="72.3" textLength="30" lengthAdjust="spacing">開=</text>
<text x="205.5" y="72.3" fill="#f3404e" textLength="46" lengthAdjust="spacing">164.0</text>
<text x="263.5" y="72.3" textLength="30" lengthAdjust="spacing">高=</text>
<text x="293.5" y="72.3" fill="#f3404e" textLength="45.5" lengthAdjust="spacing">164.5</text>
<text x="351.5" y="72.3" textLength="30" lengthAdjust="spacing">低=</text>
<text x="381.5" y="72.3" fill="#f3404e" textLength="42" lengthAdjust="spacing">161.0</text>
<text x="436" y="72.3" textLength="30" lengthAdjust="spacing">收=</text>
<text x="466" y="72.3" fill="#f3404e" textLength="42.5" lengthAdjust="spacing">161.0</text>
<text x="520" y="72.3" fill="#f3404e" textLength="120" lengthAdjust="spacing">−5.0 (−3.01%)</text>
<text x="28" y="98.3" textLength="54" lengthAdjust="spacing">成交量</text>
<text x="93.5" y="98.3" fill="#f3404e" textLength="73" lengthAdjust="spacing">24.914M</text>
</g>
<!-- price axis -->
<g class="ax">
<text x="1490.5" y="82.6" style="fill:#c9cbd0;stroke:#c9cbd0">475.0</text>
<rect x="1480" y="48" width="100" height="29.2" fill="#fff"/>
<rect x="1480" y="77.2" width="100" height="2.6" fill="#fff" fill-opacity="0.55"/>
<text x="1490.5" y="67.8" style="letter-spacing:0.2px">TWD</text>
<text x="1490.5" y="136.8">450.0</text>
<text x="1490.5" y="190.8">425.0</text>
<text x="1490.5" y="244.8">400.0</text>
<text x="1490.5" y="298.7">375.0</text>
<text x="1490.5" y="352.7">350.0</text>
<text x="1490.5" y="406.7">325.0</text>
<text x="1490.5" y="460.7">300.0</text>
<text x="1490.5" y="514.7">275.0</text>
<text x="1490.5" y="568.7">250.0</text>
<text x="1490.5" y="622.6">225.0</text>
<text x="1490.5" y="676.6">200.0</text>
<text x="1490.5" y="730.6">175.0</text>
<text x="1490.5" y="784.6">150.0</text>
<text x="1490.5" y="838.6">125.0</text>
<text x="1490.5" y="892.5">100.0</text>
<text x="1490.5" y="946.5">75.0</text>
<text x="1490.5" y="1000.5">50.0</text>
<text x="1490.5" y="1054.5">25.0</text>
</g>
<!-- last price label -->
<path d="M1475.6 515 H1547.9999999999998 Q1550.1999999999998 515 1550.1999999999998 517.2 V537.0 Q1550.1999999999998 539.2 1547.9999999999998 539.2 H1475.6 Z" fill="#fff" stroke="#089981" stroke-width="1.3"/>
<text class="ax" x="1490.5" y="533.6" fill="#089981" style="fill:#089981;stroke:#089981">266.5</text>
<!-- current price label -->
<path d="M1474.8 742.1 H1548.3999999999999 Q1550.8 742.1 1550.8 744.5 V764.9000000000001 Q1550.8 767.3000000000001 1548.3999999999999 767.3000000000001 H1474.8 Z" fill="#f23645"/>
<text class="ax" x="1491.5" y="761.2" style="fill:#fff;stroke:#fff">161.0</text>
<!-- volume label -->
<path d="M1475.6 1085.6 H1575.8 Q1578.0 1085.6 1578.0 1087.8 V1107.6 Q1578.0 1109.8 1575.8 1109.8 H1475.6 Z" fill="#fff" stroke="#22ab94" stroke-width="1.3"/>
<text class="ax" x="1490.5" y="1104.2" style="fill:#22ab94;stroke:#22ab94" textLength="79.2" lengthAdjust="spacing">47.578M</text>
<!-- time axis labels -->
<g class="tm" text-anchor="middle">
<text x="42" y="1159.8">九月</text>
<text x="227.2" y="1159.8">十一月</text>
<text x="425.7" y="1159.8" font-weight="bold" textLength="47" lengthAdjust="spacing">2021</text>
<text x="574.2" y="1159.8">三月</text>
<text x="760.1" y="1159.8">五月</text>
<text x="949.4" y="1159.8">七月</text>
<text x="1147.8" y="1159.8">九月</text>
<text x="1328.3" y="1159.8">十一月</text>
</g>
<!-- event markers -->
<g id="markers" font-weight="bold" font-size="16.5" text-anchor="middle">
<g id="e1" transform="translate(263.6,0)">
<path d="M0 1093.6 L16.3 1102.8 V1127.8 H-16.3 V1102.8 Z" fill="#fff"/>
<path d="M0 1096.3 L13.4 1104.1 V1122.6 Q13.4 1125.1 10.9 1125.1 H-10.9 Q-13.4 1125.1 -13.4 1122.6 V1104.1 Z" fill="#fff" stroke="#089981" stroke-width="2.1" stroke-linejoin="round"/>
<text x="0.1" y="1117.4" fill="#089981">E</text>
<line x1="-14" y1="1128.4" x2="14" y2="1128.4" stroke="#6cc3b6" stroke-width="1.4" stroke-dasharray="1.6 2.9"/>
</g>
<g id="e2" transform="translate(637.4,0)">
<path d="M0 1093.6 L16.3 1102.8 V1127.8 H-16.3 V1102.8 Z" fill="#fff"/>
<path d="M0 1096.3 L13.4 1104.1 V1122.6 Q13.4 1125.1 10.9 1125.1 H-10.9 Q-13.4 1125.1 -13.4 1122.6 V1104.1 Z" fill="#fff" stroke="#089981" stroke-width="2.1" stroke-linejoin="round"/>
<text x="0.1" y="1117.4" fill="#089981">E</text>
<line x1="-14" y1="1128.4" x2="14" y2="1128.4" stroke="#6cc3b6" stroke-width="1.4" stroke-dasharray="1.6 2.9"/>
</g>
<g id="e3" transform="translate(777.3,0)">
<path d="M0 1093.6 L16.3 1102.8 V1127.8 H-16.3 V1102.8 Z" fill="#fff"/>
<path d="M0 1096.3 L13.4 1104.1 V1122.6 Q13.4 1125.1 10.9 1125.1 H-10.9 Q-13.4 1125.1 -13.4 1122.6 V1104.1 Z" fill="#fff" stroke="#089981" stroke-width="2.1" stroke-linejoin="round"/>
<text x="0.1" y="1117.4" fill="#089981">E</text>
<line x1="-14" y1="1128.4" x2="14" y2="1128.4" stroke="#6cc3b6" stroke-width="1.4" stroke-dasharray="1.6 2.9"/>
</g>
<g id="e4" transform="translate(1066.7,0)">
<path d="M-16.3 1094.4 H16.3 V1119.6 L0 1129 L-16.3 1119.6 Z" fill="#fff"/>
<path d="M-10.9 1097.3 H10.9 Q13.4 1097.3 13.4 1099.8 V1117.8 L0 1125.7 L-13.4 1117.8 V1099.8 Q-13.4 1097.3 -10.9 1097.3 Z" fill="#fff" stroke="#f0142f" stroke-width="2.1" stroke-linejoin="round"/>
<text x="0" y="1117.4" fill="#f23645">E</text>
</g>
<g id="d1" transform="translate(1102.5,0)">
<circle cx="0" cy="1111.4" r="16.4" fill="#fff"/>
<circle cx="0" cy="1111.4" r="14.5" fill="#fff" stroke="#1e5bff" stroke-width="2.1"/>
<text x="0.2" y="1117.4" fill="#1e5bff">D</text>
</g>
<g id="e5" transform="translate(1346.2,0)">
<path d="M0 1093.6 L16.3 1102.8 V1127.8 H-16.3 V1102.8 Z" fill="#fff"/>
<path d="M0 1096.3 L13.4 1104.1 V1122.6 Q13.4 1125.1 10.9 1125.1 H-10.9 Q-13.4 1125.1 -13.4 1122.6 V1104.1 Z" fill="#fff" stroke="#089981" stroke-width="2.1" stroke-linejoin="round"/>
<text x="0.1" y="1117.4" fill="#089981">E</text>
<line x1="-14" y1="1128.4" x2="14" y2="1128.4" stroke="#6cc3b6" stroke-width="1.4" stroke-dasharray="1.6 2.9"/>
</g>
</g>
<!-- annotations -->
<g id="annotations">
<line x1="866.3" y1="574.5" x2="919.6" y2="190" stroke="#ff9300" stroke-width="7.2"/>
<path d="M923.8 156.8 L901.2 188.6 L936.9 194.3 Z" fill="#ff9300"/>
<ellipse cx="883.7" cy="636.6" rx="32.6" ry="37.2" fill="none" stroke="#0433ff" stroke-width="6.6"/>
<ellipse cx="809.1" cy="830" rx="32.6" ry="36.8" fill="none" stroke="#0433ff" stroke-width="6.6"/>
<text class="ann" x="992.4" y="192" textLength="184" lengthAdjust="spacing">沒賺到...QQ</text>
<text class="ann" x="930.8" y="685.8" textLength="205.5" lengthAdjust="spacing" style="font-size:34px">好像漲不動了</text>
<text class="ann" x="985.2" y="726.8" textLength="96.5" lengthAdjust="spacing" style="font-size:34px">先賣...</text>
<text class="ann" x="866.5" y="842.3">買</text>
</g>
<!-- tradingview logo -->
<g id="tvlogo" fill="#131722">
<path d="M15.2 1192 H27.3 V1206.3 H21.2 V1199.1 H15.2 Z"/>
<circle cx="31.7" cy="1195.3" r="3.1"/>
<path d="M37.6 1192 H45 L38.9 1206.3 H31.6 Z"/>
<text x="50.8" y="1206.8" font-size="19" textLength="113.2" lengthAdjust="spacing" stroke="#131722" stroke-width="0.35">TradingView</text>
</g>

</svg>
</body></html>
